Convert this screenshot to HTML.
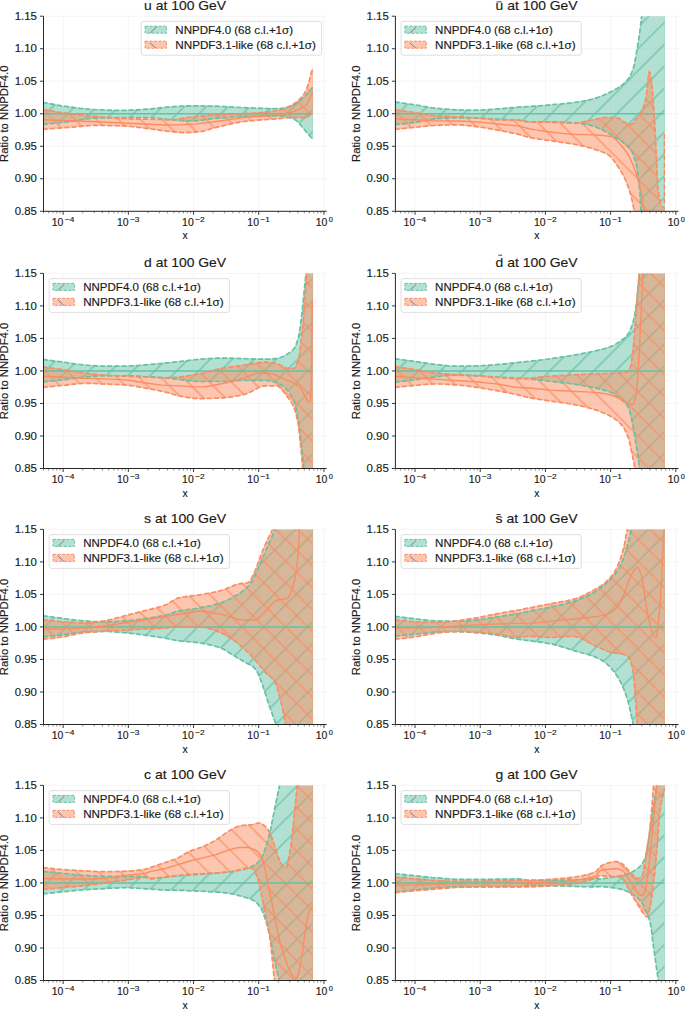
<!DOCTYPE html><html><head><meta charset="utf-8"><style>html,body{margin:0;padding:0;background:#fff;}svg{display:block}text{font-family:'Liberation Sans',sans-serif;fill:#1a1a1a;stroke:#1a1a1a;stroke-width:0.15px}</style></head><body>
<svg width="685" height="1009" viewBox="0 0 685 1009">
<defs>
<pattern id="hg0" patternUnits="userSpaceOnUse" width="15.486" height="15.486" patternTransform="translate(-4.75,0) rotate(45)"><line x1="7.743" y1="-1" x2="7.743" y2="16.486" stroke="#66c2a5" stroke-width="1.2"/></pattern>
<pattern id="ho0" patternUnits="userSpaceOnUse" width="15.486" height="15.486" patternTransform="translate(10.05,0) rotate(-45)"><line x1="7.743" y1="-1" x2="7.743" y2="16.486" stroke="#fc8d62" stroke-width="1.2"/></pattern>
<pattern id="hg1" patternUnits="userSpaceOnUse" width="15.486" height="15.486" patternTransform="translate(-2.95,0) rotate(45)"><line x1="7.743" y1="-1" x2="7.743" y2="16.486" stroke="#66c2a5" stroke-width="1.2"/></pattern>
<pattern id="ho1" patternUnits="userSpaceOnUse" width="15.486" height="15.486" patternTransform="translate(10.05,0) rotate(-45)"><line x1="7.743" y1="-1" x2="7.743" y2="16.486" stroke="#fc8d62" stroke-width="1.2"/></pattern>
<pattern id="hg2" patternUnits="userSpaceOnUse" width="15.486" height="15.486" patternTransform="translate(-10.85,0) rotate(45)"><line x1="7.743" y1="-1" x2="7.743" y2="16.486" stroke="#66c2a5" stroke-width="1.2"/></pattern>
<pattern id="ho2" patternUnits="userSpaceOnUse" width="15.486" height="15.486" patternTransform="translate(-8.25,0) rotate(-45)"><line x1="7.743" y1="-1" x2="7.743" y2="16.486" stroke="#fc8d62" stroke-width="1.2"/></pattern>
<pattern id="hg3" patternUnits="userSpaceOnUse" width="15.486" height="15.486" patternTransform="translate(-10.05,0) rotate(45)"><line x1="7.743" y1="-1" x2="7.743" y2="16.486" stroke="#66c2a5" stroke-width="1.2"/></pattern>
<pattern id="ho3" patternUnits="userSpaceOnUse" width="15.486" height="15.486" patternTransform="translate(-5.95,0) rotate(-45)"><line x1="7.743" y1="-1" x2="7.743" y2="16.486" stroke="#fc8d62" stroke-width="1.2"/></pattern>
<pattern id="hg4" patternUnits="userSpaceOnUse" width="15.486" height="15.486" patternTransform="translate(3.55,0) rotate(45)"><line x1="7.743" y1="-1" x2="7.743" y2="16.486" stroke="#66c2a5" stroke-width="1.2"/></pattern>
<pattern id="ho4" patternUnits="userSpaceOnUse" width="15.486" height="15.486" patternTransform="translate(-1.60,0) rotate(-45)"><line x1="7.743" y1="-1" x2="7.743" y2="16.486" stroke="#fc8d62" stroke-width="1.2"/></pattern>
<pattern id="hg5" patternUnits="userSpaceOnUse" width="15.486" height="15.486" patternTransform="translate(5.75,0) rotate(45)"><line x1="7.743" y1="-1" x2="7.743" y2="16.486" stroke="#66c2a5" stroke-width="1.2"/></pattern>
<pattern id="ho5" patternUnits="userSpaceOnUse" width="15.486" height="15.486" patternTransform="translate(0.25,0) rotate(-45)"><line x1="7.743" y1="-1" x2="7.743" y2="16.486" stroke="#fc8d62" stroke-width="1.2"/></pattern>
<pattern id="hg6" patternUnits="userSpaceOnUse" width="15.486" height="15.486" patternTransform="translate(-1.05,0) rotate(45)"><line x1="7.743" y1="-1" x2="7.743" y2="16.486" stroke="#66c2a5" stroke-width="1.2"/></pattern>
<pattern id="ho6" patternUnits="userSpaceOnUse" width="15.486" height="15.486" patternTransform="translate(4.15,0) rotate(-45)"><line x1="7.743" y1="-1" x2="7.743" y2="16.486" stroke="#fc8d62" stroke-width="1.2"/></pattern>
<pattern id="hg7" patternUnits="userSpaceOnUse" width="15.486" height="15.486" patternTransform="translate(-0.65,0) rotate(45)"><line x1="7.743" y1="-1" x2="7.743" y2="16.486" stroke="#66c2a5" stroke-width="1.2"/></pattern>
<pattern id="ho7" patternUnits="userSpaceOnUse" width="15.486" height="15.486" patternTransform="translate(7.95,0) rotate(-45)"><line x1="7.743" y1="-1" x2="7.743" y2="16.486" stroke="#fc8d62" stroke-width="1.2"/></pattern>
<clipPath id="cp0"><rect x="43.5" y="16.2" width="283.1" height="195.1"/></clipPath>
<clipPath id="cp1"><rect x="395.4" y="16.2" width="283.1" height="195.1"/></clipPath>
<clipPath id="cp2"><rect x="43.5" y="273.4" width="283.1" height="195.1"/></clipPath>
<clipPath id="cp3"><rect x="395.4" y="273.4" width="283.1" height="195.1"/></clipPath>
<clipPath id="cp4"><rect x="43.5" y="529.4" width="283.1" height="195.1"/></clipPath>
<clipPath id="cp5"><rect x="395.4" y="529.4" width="283.1" height="195.1"/></clipPath>
<clipPath id="cp6"><rect x="43.5" y="785.4" width="283.1" height="195.1"/></clipPath>
<clipPath id="cp7"><rect x="395.4" y="785.4" width="283.1" height="195.1"/></clipPath>
</defs>
<path d="M63.13,16.20V211.30M128.33,16.20V211.30M193.53,16.20V211.30M258.73,16.20V211.30M323.93,16.20V211.30M43.50,211.30H326.60M43.50,178.78H326.60M43.50,146.27H326.60M43.50,113.75H326.60M43.50,81.23H326.60M43.50,48.72H326.60M43.50,16.20H326.60" stroke="#f3f3f3" stroke-width="0.9" fill="none"/>
<g clip-path="url(#cp0)"><path d="M42.8,102.3L61.8,105.9L80.0,108.3L92.1,109.5L111.6,110.3L123.0,110.4L134.8,110.0L151.7,108.8L170.0,106.9L183.0,106.0L191.5,105.8L215.3,106.1L244.6,107.7L266.8,108.5L279.8,108.6L283.4,108.1L287.7,107.1L294.2,104.8L296.5,103.5L299.7,101.0L305.6,95.4L308.2,92.6L312.6,87.3L312.6,139.2L299.4,123.7L297.5,121.6L295.8,120.2L293.9,119.1L288.3,117.3L284.1,116.3L280.2,115.9L260.0,116.1L235.5,116.9L212.4,118.7L199.0,120.6L193.5,121.0L184.3,120.7L170.3,119.9L156.0,118.1L150.8,117.7L114.9,117.7L93.7,118.1L87.5,118.7L72.2,121.3L56.2,123.1L42.8,124.2Z" fill="#66c2a5" fill-opacity="0.5"/><path d="M42.8,102.3L61.8,105.9L80.0,108.3L92.1,109.5L111.6,110.3L123.0,110.4L134.8,110.0L151.7,108.8L170.0,106.9L183.0,106.0L191.5,105.8L215.3,106.1L244.6,107.7L266.8,108.5L279.8,108.6L283.4,108.1L287.7,107.1L294.2,104.8L296.5,103.5L299.7,101.0L305.6,95.4L308.2,92.6L312.6,87.3L312.6,139.2L299.4,123.7L297.5,121.6L295.8,120.2L293.9,119.1L288.3,117.3L284.1,116.3L280.2,115.9L260.0,116.1L235.5,116.9L212.4,118.7L199.0,120.6L193.5,121.0L184.3,120.7L170.3,119.9L156.0,118.1L150.8,117.7L114.9,117.7L93.7,118.1L87.5,118.7L72.2,121.3L56.2,123.1L42.8,124.2Z" fill="url(#hg0)" stroke="#66c2a5" stroke-width="0.6" stroke-opacity="0.7"/><path d="M42.8,109.6L57.8,112.1L71.2,113.9L113.6,118.1L128.9,118.8L169.0,119.6L172.9,119.6L176.5,119.3L191.5,116.9L206.8,115.4L216.6,114.8L240.1,113.9L252.5,113.2L264.9,112.2L275.0,111.0L279.2,110.2L281.8,109.6L285.1,108.4L288.3,106.9L292.2,104.8L295.8,102.5L298.4,100.5L301.0,97.9L304.6,93.2L306.6,89.3L308.9,82.4L312.4,68.8L312.6,68.7L312.6,112.6L308.2,116.6L306.6,117.6L305.3,118.0L295.2,117.4L290.9,117.5L278.9,118.7L255.7,120.3L244.6,121.4L237.1,122.6L228.7,124.4L212.0,128.5L202.6,131.3L199.0,131.8L191.5,132.4L184.3,132.6L176.8,132.2L166.7,131.2L151.4,129.0L131.2,126.5L123.0,125.9L112.6,125.6L97.6,125.4L90.1,125.5L72.5,127.1L42.8,129.3Z" fill="#fc8d62" fill-opacity="0.5"/><path d="M42.8,109.6L57.8,112.1L71.2,113.9L113.6,118.1L128.9,118.8L169.0,119.6L172.9,119.6L176.5,119.3L191.5,116.9L206.8,115.4L216.6,114.8L240.1,113.9L252.5,113.2L264.9,112.2L275.0,111.0L279.2,110.2L281.8,109.6L285.1,108.4L288.3,106.9L292.2,104.8L295.8,102.5L298.4,100.5L301.0,97.9L304.6,93.2L306.6,89.3L308.9,82.4L312.4,68.8L312.6,68.7L312.6,112.6L308.2,116.6L306.6,117.6L305.3,118.0L295.2,117.4L290.9,117.5L278.9,118.7L255.7,120.3L244.6,121.4L237.1,122.6L228.7,124.4L212.0,128.5L202.6,131.3L199.0,131.8L191.5,132.4L184.3,132.6L176.8,132.2L166.7,131.2L151.4,129.0L131.2,126.5L123.0,125.9L112.6,125.6L97.6,125.4L90.1,125.5L72.5,127.1L42.8,129.3Z" fill="url(#ho0)" stroke="#fc8d62" stroke-width="0.6" stroke-opacity="0.7"/><path d="M42.8,102.3L61.8,105.9L80.0,108.3L92.1,109.5L111.6,110.3L123.0,110.4L134.8,110.0L151.7,108.8L170.0,106.9L183.0,106.0L191.5,105.8L215.3,106.1L244.6,107.7L266.8,108.5L279.8,108.6L283.4,108.1L287.7,107.1L294.2,104.8L296.5,103.5L299.7,101.0L305.6,95.4L308.2,92.6L312.6,87.3" fill="none" stroke="#66c2a5" stroke-width="1.7" stroke-dasharray="5,2.2"/><path d="M42.8,124.2L56.2,123.1L72.2,121.3L87.5,118.7L93.7,118.1L114.9,117.7L150.8,117.7L156.0,118.1L170.3,119.9L184.3,120.7L193.5,121.0L199.0,120.6L212.4,118.7L235.5,116.9L260.0,116.1L280.2,115.9L284.1,116.3L288.3,117.3L293.9,119.1L295.8,120.2L297.5,121.6L299.4,123.7L312.6,139.2" fill="none" stroke="#66c2a5" stroke-width="1.7" stroke-dasharray="5,2.2"/><path d="M43.50,113.75H312.58" stroke="#66c2a5" stroke-width="1.6"/><path d="M42.8,109.6L57.8,112.1L71.2,113.9L113.6,118.1L128.9,118.8L169.0,119.6L172.9,119.6L176.5,119.3L191.5,116.9L206.8,115.4L216.6,114.8L240.1,113.9L252.5,113.2L264.9,112.2L275.0,111.0L279.2,110.2L281.8,109.6L285.1,108.4L288.3,106.9L292.2,104.8L295.8,102.5L298.4,100.5L301.0,97.9L304.6,93.2L306.6,89.3L308.9,82.4L312.4,68.8L312.6,68.7" fill="none" stroke="#fc8d62" stroke-width="1.7" stroke-dasharray="5,2.2"/><path d="M42.8,129.3L72.5,127.1L90.1,125.5L97.6,125.4L112.6,125.6L123.0,125.9L131.2,126.5L151.4,129.0L166.7,131.2L176.8,132.2L184.3,132.6L191.5,132.4L199.0,131.8L202.6,131.3L212.0,128.5L228.7,124.4L237.1,122.6L244.6,121.4L255.7,120.3L278.9,118.7L290.9,117.5L295.2,117.4L305.3,118.0L306.6,117.6L308.2,116.6L312.6,112.6" fill="none" stroke="#fc8d62" stroke-width="1.7" stroke-dasharray="5,2.2"/><path d="M42.8,119.8L96.6,121.8L165.7,125.0L179.8,124.9L197.4,123.9L216.0,121.5L243.3,117.6L251.5,116.9L269.4,115.7L277.2,114.9L284.1,113.9L289.6,112.6L293.9,111.3L298.1,109.6L302.0,107.7L305.3,105.7L306.6,104.2L307.9,102.2L312.6,92.9" fill="none" stroke="#fc8d62" stroke-width="1.4"/></g>
<path d="M43.50,16.20V211.30H326.60" stroke="#262626" stroke-width="1" fill="none"/>
<text x="36.90" y="215.00" font-size="10.4" text-anchor="end" textLength="22.2" lengthAdjust="spacingAndGlyphs">0.85</text>
<text x="36.90" y="182.48" font-size="10.4" text-anchor="end" textLength="22.2" lengthAdjust="spacingAndGlyphs">0.90</text>
<text x="36.90" y="149.97" font-size="10.4" text-anchor="end" textLength="22.2" lengthAdjust="spacingAndGlyphs">0.95</text>
<text x="36.90" y="117.45" font-size="10.4" text-anchor="end" textLength="22.2" lengthAdjust="spacingAndGlyphs">1.00</text>
<text x="36.90" y="84.93" font-size="10.4" text-anchor="end" textLength="22.2" lengthAdjust="spacingAndGlyphs">1.05</text>
<text x="36.90" y="52.42" font-size="10.4" text-anchor="end" textLength="22.2" lengthAdjust="spacingAndGlyphs">1.10</text>
<text x="36.90" y="19.90" font-size="10.4" text-anchor="end" textLength="22.2" lengthAdjust="spacingAndGlyphs">1.15</text>
<text x="51.73" y="225.50" font-size="10.4" textLength="11.6" lengthAdjust="spacingAndGlyphs">10</text>
<text x="64.73" y="221.80" font-size="7.4" textLength="9.6" lengthAdjust="spacingAndGlyphs">−4</text>
<text x="116.93" y="225.50" font-size="10.4" textLength="11.6" lengthAdjust="spacingAndGlyphs">10</text>
<text x="129.93" y="221.80" font-size="7.4" textLength="9.6" lengthAdjust="spacingAndGlyphs">−3</text>
<text x="182.13" y="225.50" font-size="10.4" textLength="11.6" lengthAdjust="spacingAndGlyphs">10</text>
<text x="195.13" y="221.80" font-size="7.4" textLength="9.6" lengthAdjust="spacingAndGlyphs">−2</text>
<text x="247.33" y="225.50" font-size="10.4" textLength="11.6" lengthAdjust="spacingAndGlyphs">10</text>
<text x="260.33" y="221.80" font-size="7.4" textLength="9.6" lengthAdjust="spacingAndGlyphs">−1</text>
<text x="315.73" y="225.50" font-size="10.4" textLength="11.6" lengthAdjust="spacingAndGlyphs">10</text>
<text x="328.73" y="221.80" font-size="7.4">0</text>
<path d="M40.00,211.30H43.50M40.00,178.78H43.50M40.00,146.27H43.50M40.00,113.75H43.50M40.00,81.23H43.50M40.00,48.72H43.50M40.00,16.20H43.50M63.13,211.30v3.5M128.33,211.30v3.5M193.53,211.30v3.5M258.73,211.30v3.5M323.93,211.30v3.5" stroke="#262626" stroke-width="0.9" fill="none"/>
<path d="M43.50,211.30v2M48.66,211.30v2M53.03,211.30v2M56.81,211.30v2M60.14,211.30v2M82.75,211.30v2M94.24,211.30v2M102.38,211.30v2M108.70,211.30v2M113.86,211.30v2M118.23,211.30v2M122.01,211.30v2M125.34,211.30v2M147.95,211.30v2M159.44,211.30v2M167.58,211.30v2M173.90,211.30v2M179.06,211.30v2M183.43,211.30v2M187.21,211.30v2M190.54,211.30v2M213.15,211.30v2M224.64,211.30v2M232.78,211.30v2M239.10,211.30v2M244.26,211.30v2M248.63,211.30v2M252.41,211.30v2M255.74,211.30v2M278.35,211.30v2M289.84,211.30v2M297.98,211.30v2M304.30,211.30v2M309.46,211.30v2M313.83,211.30v2M317.61,211.30v2M320.94,211.30v2" stroke="#3a3a3a" stroke-width="0.6" fill="none"/>
<text x="185.05" y="239.30" font-size="10.4" text-anchor="middle">x</text>
<text transform="translate(7.50,113.75) rotate(-90)" font-size="10.4" text-anchor="middle" textLength="96.4" lengthAdjust="spacingAndGlyphs">Ratio to NNPDF4.0</text>
<text x="144.10" y="10.00" font-size="12.8" textLength="82" lengthAdjust="spacingAndGlyphs">u at 100 GeV</text>
<rect x="141.30" y="21.40" width="180.2" height="33.8" rx="2.2" fill="#fff" fill-opacity="0.8" stroke="#d6d6d6" stroke-width="0.8"/>
<rect x="145.10" y="26.20" width="21.4" height="7" fill="#66c2a5" fill-opacity="0.5" stroke="#66c2a5" stroke-width="1" stroke-dasharray="3,1.5"/>
<path d="M150.30,32.80L156.50,27.10" stroke="#777" stroke-width="0.9"/>
<text x="175.30" y="34.20" font-size="10.4" textLength="117.7" lengthAdjust="spacingAndGlyphs">NNPDF4.0 (68 c.l.+1σ)</text>
<rect x="145.10" y="41.20" width="21.4" height="7" fill="#fc8d62" fill-opacity="0.5" stroke="#fc8d62" stroke-width="1" stroke-dasharray="3,1.5"/>
<path d="M149.90,42.80L156.00,48.10" stroke="#777" stroke-width="0.9"/>
<text x="175.30" y="49.20" font-size="10.4" textLength="140.5" lengthAdjust="spacingAndGlyphs">NNPDF3.1-like (68 c.l.+1σ)</text>
<path d="M415.03,16.20V211.30M480.23,16.20V211.30M545.43,16.20V211.30M610.63,16.20V211.30M675.83,16.20V211.30M395.40,211.30H678.50M395.40,178.78H678.50M395.40,146.27H678.50M395.40,113.75H678.50M395.40,81.23H678.50M395.40,48.72H678.50M395.40,16.20H678.50" stroke="#f3f3f3" stroke-width="0.9" fill="none"/>
<g clip-path="url(#cp1)"><path d="M394.7,102.0L415.6,104.9L432.2,107.8L443.0,108.9L456.0,109.8L470.7,110.2L480.5,110.2L498.7,108.9L516.3,107.3L539.5,105.8L561.7,103.9L571.8,102.8L582.2,101.3L591.7,99.3L598.2,97.4L604.7,94.7L612.5,90.9L617.1,88.4L621.0,85.8L624.6,82.9L627.2,80.2L629.5,77.2L631.4,73.5L633.1,69.3L634.4,64.2L635.7,57.3L638.3,42.0L639.9,31.0L641.2,20.1L645.4,-23.4L645.8,-23.8L664.5,-23.8L664.5,251.3L645.1,251.3L644.8,250.9L643.2,237.6L642.2,227.6L640.9,209.2L639.9,191.2L637.6,171.9L636.6,166.2L635.3,160.9L633.4,154.8L631.7,151.0L630.4,149.0L628.5,146.9L624.6,143.5L621.0,140.8L610.2,134.1L599.8,128.8L595.2,126.8L591.3,125.6L582.8,123.8L575.4,122.8L556.8,121.9L529.1,121.9L526.5,121.6L520.3,120.4L517.6,120.1L497.1,119.2L475.9,118.0L453.4,117.8L445.9,118.1L435.8,118.8L430.6,119.5L415.9,122.5L404.2,123.8L394.7,124.5Z" fill="#66c2a5" fill-opacity="0.5"/><path d="M394.7,102.0L415.6,104.9L432.2,107.8L443.0,108.9L456.0,109.8L470.7,110.2L480.5,110.2L498.7,108.9L516.3,107.3L539.5,105.8L561.7,103.9L571.8,102.8L582.2,101.3L591.7,99.3L598.2,97.4L604.7,94.7L612.5,90.9L617.1,88.4L621.0,85.8L624.6,82.9L627.2,80.2L629.5,77.2L631.4,73.5L633.1,69.3L634.4,64.2L635.7,57.3L638.3,42.0L639.9,31.0L641.2,20.1L645.4,-23.4L645.8,-23.8L664.5,-23.8L664.5,251.3L645.1,251.3L644.8,250.9L643.2,237.6L642.2,227.6L640.9,209.2L639.9,191.2L637.6,171.9L636.6,166.2L635.3,160.9L633.4,154.8L631.7,151.0L630.4,149.0L628.5,146.9L624.6,143.5L621.0,140.8L610.2,134.1L599.8,128.8L595.2,126.8L591.3,125.6L582.8,123.8L575.4,122.8L556.8,121.9L529.1,121.9L526.5,121.6L520.3,120.4L517.6,120.1L497.1,119.2L475.9,118.0L453.4,117.8L445.9,118.1L435.8,118.8L430.6,119.5L415.9,122.5L404.2,123.8L394.7,124.5Z" fill="url(#hg1)" stroke="#66c2a5" stroke-width="0.6" stroke-opacity="0.7"/><path d="M394.7,109.7L416.3,112.8L429.0,115.0L434.8,115.7L476.9,117.8L496.1,119.8L518.3,120.5L530.0,121.9L552.5,122.3L568.5,123.2L575.0,123.3L580.2,122.6L589.4,120.5L602.7,117.8L606.6,117.5L614.8,117.7L618.4,118.1L619.7,118.8L623.9,122.1L628.5,124.1L629.8,124.4L631.1,124.4L632.4,123.8L633.7,122.5L639.2,115.4L641.5,111.6L643.8,106.2L645.1,101.9L646.1,97.9L646.7,93.1L648.4,76.5L649.0,72.5L649.4,71.9L649.7,72.2L650.3,74.2L651.6,81.6L652.9,95.9L654.9,126.5L657.5,181.9L658.2,190.7L659.5,199.2L660.8,204.3L661.4,205.5L662.4,206.6L663.4,207.3L664.5,207.7L664.5,251.3L641.9,251.3L641.5,250.9L637.0,232.4L634.4,211.9L632.4,201.5L630.4,193.7L627.5,184.8L624.9,178.5L622.3,173.4L619.4,168.7L613.8,160.6L611.5,157.7L609.6,155.8L607.3,154.3L604.4,152.8L599.8,151.0L591.3,148.3L584.2,146.4L576.7,144.7L567.2,143.1L533.0,138.2L527.8,137.1L518.0,134.2L507.9,132.1L483.7,127.6L470.4,125.9L463.2,125.2L457.3,124.9L447.6,125.0L434.8,125.4L428.7,125.9L394.7,129.5Z" fill="#fc8d62" fill-opacity="0.5"/><path d="M394.7,109.7L416.3,112.8L429.0,115.0L434.8,115.7L476.9,117.8L496.1,119.8L518.3,120.5L530.0,121.9L552.5,122.3L568.5,123.2L575.0,123.3L580.2,122.6L589.4,120.5L602.7,117.8L606.6,117.5L614.8,117.7L618.4,118.1L619.7,118.8L623.9,122.1L628.5,124.1L629.8,124.4L631.1,124.4L632.4,123.8L633.7,122.5L639.2,115.4L641.5,111.6L643.8,106.2L645.1,101.9L646.1,97.9L646.7,93.1L648.4,76.5L649.0,72.5L649.4,71.9L649.7,72.2L650.3,74.2L651.6,81.6L652.9,95.9L654.9,126.5L657.5,181.9L658.2,190.7L659.5,199.2L660.8,204.3L661.4,205.5L662.4,206.6L663.4,207.3L664.5,207.7L664.5,251.3L641.9,251.3L641.5,250.9L637.0,232.4L634.4,211.9L632.4,201.5L630.4,193.7L627.5,184.8L624.9,178.5L622.3,173.4L619.4,168.7L613.8,160.6L611.5,157.7L609.6,155.8L607.3,154.3L604.4,152.8L599.8,151.0L591.3,148.3L584.2,146.4L576.7,144.7L567.2,143.1L533.0,138.2L527.8,137.1L518.0,134.2L507.9,132.1L483.7,127.6L470.4,125.9L463.2,125.2L457.3,124.9L447.6,125.0L434.8,125.4L428.7,125.9L394.7,129.5Z" fill="url(#ho1)" stroke="#fc8d62" stroke-width="0.6" stroke-opacity="0.7"/><path d="M394.7,102.0L415.6,104.9L432.2,107.8L443.0,108.9L456.0,109.8L470.7,110.2L480.5,110.2L498.7,108.9L516.3,107.3L539.5,105.8L561.7,103.9L571.8,102.8L582.2,101.3L591.7,99.3L598.2,97.4L604.7,94.7L612.5,90.9L617.1,88.4L621.0,85.8L624.6,82.9L627.2,80.2L629.5,77.2L631.4,73.5L633.1,69.3L634.4,64.2L635.7,57.3L638.3,42.0L639.9,31.0L641.2,20.1L645.4,-23.4L645.8,-23.8L664.5,-23.8" fill="none" stroke="#66c2a5" stroke-width="1.7" stroke-dasharray="5,2.2"/><path d="M394.7,124.5L404.2,123.8L415.9,122.5L430.6,119.5L435.8,118.8L445.9,118.1L453.4,117.8L475.9,118.0L497.1,119.2L517.6,120.1L520.3,120.4L526.5,121.6L529.1,121.9L556.8,121.9L575.4,122.8L582.8,123.8L591.3,125.6L595.2,126.8L599.8,128.8L610.2,134.1L621.0,140.8L624.6,143.5L628.5,146.9L630.4,149.0L631.7,151.0L633.4,154.8L635.3,160.9L636.6,166.2L637.6,171.9L639.9,191.2L640.9,209.2L642.2,227.6L643.2,237.6L644.8,250.9L645.1,251.3L664.5,251.3" fill="none" stroke="#66c2a5" stroke-width="1.7" stroke-dasharray="5,2.2"/><path d="M395.40,113.75H664.48" stroke="#66c2a5" stroke-width="1.6"/><path d="M394.7,109.7L416.3,112.8L429.0,115.0L434.8,115.7L476.9,117.8L496.1,119.8L518.3,120.5L530.0,121.9L552.5,122.3L568.5,123.2L575.0,123.3L580.2,122.6L589.4,120.5L602.7,117.8L606.6,117.5L614.8,117.7L618.4,118.1L619.7,118.8L623.9,122.1L628.5,124.1L629.8,124.4L631.1,124.4L632.4,123.8L633.7,122.5L639.2,115.4L641.5,111.6L643.8,106.2L645.1,101.9L646.1,97.9L646.7,93.1L648.4,76.5L649.0,72.5L649.4,71.9L649.7,72.2L650.3,74.2L651.6,81.6L652.9,95.9L654.9,126.5L657.5,181.9L658.2,190.7L659.5,199.2L660.8,204.3L661.4,205.5L662.4,206.6L663.4,207.3L664.5,207.7" fill="none" stroke="#fc8d62" stroke-width="1.7" stroke-dasharray="5,2.2"/><path d="M394.7,129.5L428.7,125.9L434.8,125.4L447.6,125.0L457.3,124.9L463.2,125.2L470.4,125.9L483.7,127.6L507.9,132.1L518.0,134.2L527.8,137.1L533.0,138.2L567.2,143.1L576.7,144.7L584.2,146.4L591.3,148.3L599.8,151.0L604.4,152.8L607.3,154.3L609.6,155.8L611.5,157.7L613.8,160.6L619.4,168.7L622.3,173.4L624.9,178.5L627.5,184.8L630.4,193.7L632.4,201.5L634.4,211.9L637.0,232.4L641.5,250.9L641.9,251.3L664.5,251.3" fill="none" stroke="#fc8d62" stroke-width="1.7" stroke-dasharray="5,2.2"/><path d="M394.7,118.8L431.3,120.8L460.3,121.0L479.5,122.1L517.0,125.9L520.6,126.5L529.1,128.7L535.9,129.9L546.7,131.5L562.0,133.4L573.4,134.3L593.0,134.9L601.4,135.3L608.9,136.2L611.2,136.6L612.5,137.0L614.8,138.6L617.7,141.5L623.6,148.3L626.9,152.9L629.5,157.2L631.7,161.7L633.7,166.4L636.0,172.9L639.2,183.8L641.9,195.6L643.8,209.3L645.8,232.3L647.4,240.2L650.0,250.7L650.3,251.3L664.5,251.3" fill="none" stroke="#fc8d62" stroke-width="1.4"/><path d="M664.4,134V203" stroke="#fc8d62" stroke-width="1.5" stroke-dasharray="5,2.2" fill="none"/></g>
<path d="M395.40,16.20V211.30H678.50" stroke="#262626" stroke-width="1" fill="none"/>
<text x="388.80" y="215.00" font-size="10.4" text-anchor="end" textLength="22.2" lengthAdjust="spacingAndGlyphs">0.85</text>
<text x="388.80" y="182.48" font-size="10.4" text-anchor="end" textLength="22.2" lengthAdjust="spacingAndGlyphs">0.90</text>
<text x="388.80" y="149.97" font-size="10.4" text-anchor="end" textLength="22.2" lengthAdjust="spacingAndGlyphs">0.95</text>
<text x="388.80" y="117.45" font-size="10.4" text-anchor="end" textLength="22.2" lengthAdjust="spacingAndGlyphs">1.00</text>
<text x="388.80" y="84.93" font-size="10.4" text-anchor="end" textLength="22.2" lengthAdjust="spacingAndGlyphs">1.05</text>
<text x="388.80" y="52.42" font-size="10.4" text-anchor="end" textLength="22.2" lengthAdjust="spacingAndGlyphs">1.10</text>
<text x="388.80" y="19.90" font-size="10.4" text-anchor="end" textLength="22.2" lengthAdjust="spacingAndGlyphs">1.15</text>
<text x="403.63" y="225.50" font-size="10.4" textLength="11.6" lengthAdjust="spacingAndGlyphs">10</text>
<text x="416.63" y="221.80" font-size="7.4" textLength="9.6" lengthAdjust="spacingAndGlyphs">−4</text>
<text x="468.83" y="225.50" font-size="10.4" textLength="11.6" lengthAdjust="spacingAndGlyphs">10</text>
<text x="481.83" y="221.80" font-size="7.4" textLength="9.6" lengthAdjust="spacingAndGlyphs">−3</text>
<text x="534.03" y="225.50" font-size="10.4" textLength="11.6" lengthAdjust="spacingAndGlyphs">10</text>
<text x="547.03" y="221.80" font-size="7.4" textLength="9.6" lengthAdjust="spacingAndGlyphs">−2</text>
<text x="599.23" y="225.50" font-size="10.4" textLength="11.6" lengthAdjust="spacingAndGlyphs">10</text>
<text x="612.23" y="221.80" font-size="7.4" textLength="9.6" lengthAdjust="spacingAndGlyphs">−1</text>
<text x="667.63" y="225.50" font-size="10.4" textLength="11.6" lengthAdjust="spacingAndGlyphs">10</text>
<text x="680.63" y="221.80" font-size="7.4">0</text>
<path d="M391.90,211.30H395.40M391.90,178.78H395.40M391.90,146.27H395.40M391.90,113.75H395.40M391.90,81.23H395.40M391.90,48.72H395.40M391.90,16.20H395.40M415.03,211.30v3.5M480.23,211.30v3.5M545.43,211.30v3.5M610.63,211.30v3.5M675.83,211.30v3.5" stroke="#262626" stroke-width="0.9" fill="none"/>
<path d="M395.40,211.30v2M400.56,211.30v2M404.93,211.30v2M408.71,211.30v2M412.04,211.30v2M434.65,211.30v2M446.14,211.30v2M454.28,211.30v2M460.60,211.30v2M465.76,211.30v2M470.13,211.30v2M473.91,211.30v2M477.24,211.30v2M499.85,211.30v2M511.34,211.30v2M519.48,211.30v2M525.80,211.30v2M530.96,211.30v2M535.33,211.30v2M539.11,211.30v2M542.44,211.30v2M565.05,211.30v2M576.54,211.30v2M584.68,211.30v2M591.00,211.30v2M596.16,211.30v2M600.53,211.30v2M604.31,211.30v2M607.64,211.30v2M630.25,211.30v2M641.74,211.30v2M649.88,211.30v2M656.20,211.30v2M661.36,211.30v2M665.73,211.30v2M669.51,211.30v2M672.84,211.30v2" stroke="#3a3a3a" stroke-width="0.6" fill="none"/>
<text x="536.95" y="239.30" font-size="10.4" text-anchor="middle">x</text>
<text transform="translate(359.50,113.75) rotate(-90)" font-size="10.4" text-anchor="middle" textLength="96.4" lengthAdjust="spacingAndGlyphs">Ratio to NNPDF4.0</text>
<text x="495.60" y="10.00" font-size="12.8" textLength="82" lengthAdjust="spacingAndGlyphs">u at 100 GeV</text>
<path d="M496.50,1.90H501.70" stroke="#1a1a1a" stroke-width="0.85"/>
<rect x="401.10" y="21.40" width="180.2" height="33.8" rx="2.2" fill="#fff" fill-opacity="0.8" stroke="#d6d6d6" stroke-width="0.8"/>
<rect x="404.90" y="26.20" width="21.4" height="7" fill="#66c2a5" fill-opacity="0.5" stroke="#66c2a5" stroke-width="1" stroke-dasharray="3,1.5"/>
<path d="M410.10,32.80L416.30,27.10" stroke="#777" stroke-width="0.9"/>
<text x="435.10" y="34.20" font-size="10.4" textLength="117.7" lengthAdjust="spacingAndGlyphs">NNPDF4.0 (68 c.l.+1σ)</text>
<rect x="404.90" y="41.20" width="21.4" height="7" fill="#fc8d62" fill-opacity="0.5" stroke="#fc8d62" stroke-width="1" stroke-dasharray="3,1.5"/>
<path d="M409.70,42.80L415.80,48.10" stroke="#777" stroke-width="0.9"/>
<text x="435.10" y="49.20" font-size="10.4" textLength="140.5" lengthAdjust="spacingAndGlyphs">NNPDF3.1-like (68 c.l.+1σ)</text>
<path d="M63.13,273.40V468.50M128.33,273.40V468.50M193.53,273.40V468.50M258.73,273.40V468.50M323.93,273.40V468.50M43.50,468.50H326.60M43.50,435.98H326.60M43.50,403.47H326.60M43.50,370.95H326.60M43.50,338.43H326.60M43.50,305.92H326.60M43.50,273.40H326.60" stroke="#f3f3f3" stroke-width="0.9" fill="none"/>
<g clip-path="url(#cp2)"><path d="M42.8,359.4L64.0,362.2L79.0,364.4L90.8,365.5L102.2,366.1L126.0,366.1L133.8,365.8L148.8,364.6L178.8,361.7L196.7,359.5L210.1,358.5L218.2,358.1L225.7,358.1L260.3,359.1L267.5,359.2L277.2,358.4L279.8,357.8L282.8,356.6L289.6,352.8L291.6,351.3L293.5,349.3L294.8,347.5L296.1,344.8L298.4,337.7L300.1,328.6L302.3,310.0L306.3,270.5L308.9,236.0L309.2,233.4L312.6,233.4L312.6,508.5L306.9,508.5L304.0,469.8L300.7,438.4L298.4,420.9L296.8,411.9L295.2,404.7L294.2,401.5L292.6,397.8L290.9,394.8L289.3,392.4L287.0,389.8L283.8,386.8L281.2,384.9L278.5,383.4L276.6,382.6L272.0,381.3L269.1,380.7L266.5,380.4L241.7,380.4L223.1,381.5L198.0,381.5L190.5,380.9L166.1,377.8L131.2,375.9L125.3,375.8L103.2,375.8L95.7,376.1L81.0,377.5L60.5,380.2L42.8,381.9Z" fill="#66c2a5" fill-opacity="0.5"/><path d="M42.8,359.4L64.0,362.2L79.0,364.4L90.8,365.5L102.2,366.1L126.0,366.1L133.8,365.8L148.8,364.6L178.8,361.7L196.7,359.5L210.1,358.5L218.2,358.1L225.7,358.1L260.3,359.1L267.5,359.2L277.2,358.4L279.8,357.8L282.8,356.6L289.6,352.8L291.6,351.3L293.5,349.3L294.8,347.5L296.1,344.8L298.4,337.7L300.1,328.6L302.3,310.0L306.3,270.5L308.9,236.0L309.2,233.4L312.6,233.4L312.6,508.5L306.9,508.5L304.0,469.8L300.7,438.4L298.4,420.9L296.8,411.9L295.2,404.7L294.2,401.5L292.6,397.8L290.9,394.8L289.3,392.4L287.0,389.8L283.8,386.8L281.2,384.9L278.5,383.4L276.6,382.6L272.0,381.3L269.1,380.7L266.5,380.4L241.7,380.4L223.1,381.5L198.0,381.5L190.5,380.9L166.1,377.8L131.2,375.9L125.3,375.8L103.2,375.8L95.7,376.1L81.0,377.5L60.5,380.2L42.8,381.9Z" fill="url(#hg2)" stroke="#66c2a5" stroke-width="0.6" stroke-opacity="0.7"/><path d="M42.8,367.0L63.7,369.7L82.6,372.9L98.6,374.7L108.0,375.4L141.3,377.0L164.4,377.8L170.3,377.7L178.5,377.1L188.2,375.9L202.3,373.3L216.9,369.4L222.5,368.2L230.6,366.9L245.3,364.9L256.4,363.0L261.9,362.4L265.5,362.2L268.8,362.4L276.9,363.6L279.2,364.5L284.4,367.5L286.7,368.3L293.9,368.3L294.5,368.2L295.2,367.6L296.1,365.9L298.4,359.6L299.4,355.2L300.4,348.5L302.3,331.2L303.6,317.4L309.5,236.0L309.8,233.4L312.6,233.4L312.6,508.5L305.6,508.5L303.3,474.2L299.4,433.1L298.1,423.4L295.8,413.0L294.8,409.8L293.5,406.5L292.2,403.9L290.6,401.1L282.1,389.7L280.2,387.7L278.2,386.3L276.6,385.8L265.2,385.8L262.6,386.2L260.3,386.9L258.0,387.9L249.5,392.4L245.9,394.0L241.1,395.2L232.6,396.8L227.4,397.5L222.5,397.9L211.1,398.4L201.3,398.6L193.8,398.3L184.7,397.0L176.5,395.4L166.4,392.3L156.9,390.2L133.8,386.0L124.0,384.9L93.7,383.5L82.3,383.3L77.1,383.7L64.4,385.3L42.8,387.4Z" fill="#fc8d62" fill-opacity="0.5"/><path d="M42.8,367.0L63.7,369.7L82.6,372.9L98.6,374.7L108.0,375.4L141.3,377.0L164.4,377.8L170.3,377.7L178.5,377.1L188.2,375.9L202.3,373.3L216.9,369.4L222.5,368.2L230.6,366.9L245.3,364.9L256.4,363.0L261.9,362.4L265.5,362.2L268.8,362.4L276.9,363.6L279.2,364.5L284.4,367.5L286.7,368.3L293.9,368.3L294.5,368.2L295.2,367.6L296.1,365.9L298.4,359.6L299.4,355.2L300.4,348.5L302.3,331.2L303.6,317.4L309.5,236.0L309.8,233.4L312.6,233.4L312.6,508.5L305.6,508.5L303.3,474.2L299.4,433.1L298.1,423.4L295.8,413.0L294.8,409.8L293.5,406.5L292.2,403.9L290.6,401.1L282.1,389.7L280.2,387.7L278.2,386.3L276.6,385.8L265.2,385.8L262.6,386.2L260.3,386.9L258.0,387.9L249.5,392.4L245.9,394.0L241.1,395.2L232.6,396.8L227.4,397.5L222.5,397.9L211.1,398.4L201.3,398.6L193.8,398.3L184.7,397.0L176.5,395.4L166.4,392.3L156.9,390.2L133.8,386.0L124.0,384.9L93.7,383.5L82.3,383.3L77.1,383.7L64.4,385.3L42.8,387.4Z" fill="url(#ho2)" stroke="#fc8d62" stroke-width="0.6" stroke-opacity="0.7"/><path d="M42.8,359.4L64.0,362.2L79.0,364.4L90.8,365.5L102.2,366.1L126.0,366.1L133.8,365.8L148.8,364.6L178.8,361.7L196.7,359.5L210.1,358.5L218.2,358.1L225.7,358.1L260.3,359.1L267.5,359.2L277.2,358.4L279.8,357.8L282.8,356.6L289.6,352.8L291.6,351.3L293.5,349.3L294.8,347.5L296.1,344.8L298.4,337.7L300.1,328.6L302.3,310.0L306.3,270.5L308.9,236.0L309.2,233.4L312.6,233.4" fill="none" stroke="#66c2a5" stroke-width="1.7" stroke-dasharray="5,2.2"/><path d="M42.8,381.9L60.5,380.2L81.0,377.5L95.7,376.1L103.2,375.8L125.3,375.8L131.2,375.9L166.1,377.8L190.5,380.9L198.0,381.5L223.1,381.5L241.7,380.4L266.5,380.4L269.1,380.7L272.0,381.3L276.6,382.6L278.5,383.4L281.2,384.9L283.8,386.8L287.0,389.8L289.3,392.4L290.9,394.8L292.6,397.8L294.2,401.5L295.2,404.7L296.8,411.9L298.4,420.9L300.7,438.4L304.0,469.8L306.9,508.5L312.6,508.5" fill="none" stroke="#66c2a5" stroke-width="1.7" stroke-dasharray="5,2.2"/><path d="M43.50,370.95H312.58" stroke="#66c2a5" stroke-width="1.6"/><path d="M42.8,367.0L63.7,369.7L82.6,372.9L98.6,374.7L108.0,375.4L141.3,377.0L164.4,377.8L170.3,377.7L178.5,377.1L188.2,375.9L202.3,373.3L216.9,369.4L222.5,368.2L230.6,366.9L245.3,364.9L256.4,363.0L261.9,362.4L265.5,362.2L268.8,362.4L276.9,363.6L279.2,364.5L284.4,367.5L286.7,368.3L293.9,368.3L294.5,368.2L295.2,367.6L296.1,365.9L298.4,359.6L299.4,355.2L300.4,348.5L302.3,331.2L303.6,317.4L309.5,236.0L309.8,233.4L312.6,233.4" fill="none" stroke="#fc8d62" stroke-width="1.7" stroke-dasharray="5,2.2"/><path d="M42.8,387.4L64.4,385.3L77.1,383.7L82.3,383.3L93.7,383.5L124.0,384.9L133.8,386.0L156.9,390.2L166.4,392.3L176.5,395.4L184.7,397.0L193.8,398.3L201.3,398.6L211.1,398.4L222.5,397.9L227.4,397.5L232.6,396.8L241.1,395.2L245.9,394.0L249.5,392.4L258.0,387.9L260.3,386.9L262.6,386.2L265.2,385.8L276.6,385.8L278.2,386.3L280.2,387.7L282.1,389.7L290.6,401.1L292.2,403.9L293.5,406.5L294.8,409.8L295.8,413.0L298.1,423.4L299.4,433.1L303.3,474.2L305.6,508.5L312.6,508.5" fill="none" stroke="#fc8d62" stroke-width="1.7" stroke-dasharray="5,2.2"/><path d="M42.8,376.3L64.0,377.2L82.0,378.4L106.4,378.9L121.4,379.6L129.2,380.3L143.9,382.7L161.8,385.1L180.1,385.9L193.8,386.8L200.6,386.9L205.2,386.7L210.1,386.0L223.8,383.3L229.6,382.0L244.3,378.0L253.4,374.4L257.0,373.3L260.0,373.0L265.5,373.2L272.4,374.1L275.3,375.0L284.1,379.1L292.9,382.7L296.8,384.8L299.4,386.7L300.7,388.0L302.0,390.3L304.6,395.8L307.9,401.4L308.9,402.1L310.2,402.1L310.5,400.5L311.1,385.9L311.5,368.9L312.1,300.5L312.6,300.5" fill="none" stroke="#fc8d62" stroke-width="1.4"/></g>
<path d="M43.50,273.40V468.50H326.60" stroke="#262626" stroke-width="1" fill="none"/>
<text x="36.90" y="472.20" font-size="10.4" text-anchor="end" textLength="22.2" lengthAdjust="spacingAndGlyphs">0.85</text>
<text x="36.90" y="439.68" font-size="10.4" text-anchor="end" textLength="22.2" lengthAdjust="spacingAndGlyphs">0.90</text>
<text x="36.90" y="407.17" font-size="10.4" text-anchor="end" textLength="22.2" lengthAdjust="spacingAndGlyphs">0.95</text>
<text x="36.90" y="374.65" font-size="10.4" text-anchor="end" textLength="22.2" lengthAdjust="spacingAndGlyphs">1.00</text>
<text x="36.90" y="342.13" font-size="10.4" text-anchor="end" textLength="22.2" lengthAdjust="spacingAndGlyphs">1.05</text>
<text x="36.90" y="309.62" font-size="10.4" text-anchor="end" textLength="22.2" lengthAdjust="spacingAndGlyphs">1.10</text>
<text x="36.90" y="277.10" font-size="10.4" text-anchor="end" textLength="22.2" lengthAdjust="spacingAndGlyphs">1.15</text>
<text x="51.73" y="482.70" font-size="10.4" textLength="11.6" lengthAdjust="spacingAndGlyphs">10</text>
<text x="64.73" y="479.00" font-size="7.4" textLength="9.6" lengthAdjust="spacingAndGlyphs">−4</text>
<text x="116.93" y="482.70" font-size="10.4" textLength="11.6" lengthAdjust="spacingAndGlyphs">10</text>
<text x="129.93" y="479.00" font-size="7.4" textLength="9.6" lengthAdjust="spacingAndGlyphs">−3</text>
<text x="182.13" y="482.70" font-size="10.4" textLength="11.6" lengthAdjust="spacingAndGlyphs">10</text>
<text x="195.13" y="479.00" font-size="7.4" textLength="9.6" lengthAdjust="spacingAndGlyphs">−2</text>
<text x="247.33" y="482.70" font-size="10.4" textLength="11.6" lengthAdjust="spacingAndGlyphs">10</text>
<text x="260.33" y="479.00" font-size="7.4" textLength="9.6" lengthAdjust="spacingAndGlyphs">−1</text>
<text x="315.73" y="482.70" font-size="10.4" textLength="11.6" lengthAdjust="spacingAndGlyphs">10</text>
<text x="328.73" y="479.00" font-size="7.4">0</text>
<path d="M40.00,468.50H43.50M40.00,435.98H43.50M40.00,403.47H43.50M40.00,370.95H43.50M40.00,338.43H43.50M40.00,305.92H43.50M40.00,273.40H43.50M63.13,468.50v3.5M128.33,468.50v3.5M193.53,468.50v3.5M258.73,468.50v3.5M323.93,468.50v3.5" stroke="#262626" stroke-width="0.9" fill="none"/>
<path d="M43.50,468.50v2M48.66,468.50v2M53.03,468.50v2M56.81,468.50v2M60.14,468.50v2M82.75,468.50v2M94.24,468.50v2M102.38,468.50v2M108.70,468.50v2M113.86,468.50v2M118.23,468.50v2M122.01,468.50v2M125.34,468.50v2M147.95,468.50v2M159.44,468.50v2M167.58,468.50v2M173.90,468.50v2M179.06,468.50v2M183.43,468.50v2M187.21,468.50v2M190.54,468.50v2M213.15,468.50v2M224.64,468.50v2M232.78,468.50v2M239.10,468.50v2M244.26,468.50v2M248.63,468.50v2M252.41,468.50v2M255.74,468.50v2M278.35,468.50v2M289.84,468.50v2M297.98,468.50v2M304.30,468.50v2M309.46,468.50v2M313.83,468.50v2M317.61,468.50v2M320.94,468.50v2" stroke="#3a3a3a" stroke-width="0.6" fill="none"/>
<text x="185.05" y="496.50" font-size="10.4" text-anchor="middle">x</text>
<text transform="translate(7.50,370.95) rotate(-90)" font-size="10.4" text-anchor="middle" textLength="96.4" lengthAdjust="spacingAndGlyphs">Ratio to NNPDF4.0</text>
<text x="144.10" y="267.20" font-size="12.8" textLength="82" lengthAdjust="spacingAndGlyphs">d at 100 GeV</text>
<rect x="49.20" y="278.60" width="180.2" height="33.8" rx="2.2" fill="#fff" fill-opacity="0.8" stroke="#d6d6d6" stroke-width="0.8"/>
<rect x="53.00" y="283.40" width="21.4" height="7" fill="#66c2a5" fill-opacity="0.5" stroke="#66c2a5" stroke-width="1" stroke-dasharray="3,1.5"/>
<path d="M58.20,290.00L64.40,284.30" stroke="#777" stroke-width="0.9"/>
<text x="83.20" y="291.40" font-size="10.4" textLength="117.7" lengthAdjust="spacingAndGlyphs">NNPDF4.0 (68 c.l.+1σ)</text>
<rect x="53.00" y="298.40" width="21.4" height="7" fill="#fc8d62" fill-opacity="0.5" stroke="#fc8d62" stroke-width="1" stroke-dasharray="3,1.5"/>
<path d="M57.80,300.00L63.90,305.30" stroke="#777" stroke-width="0.9"/>
<text x="83.20" y="306.40" font-size="10.4" textLength="140.5" lengthAdjust="spacingAndGlyphs">NNPDF3.1-like (68 c.l.+1σ)</text>
<path d="M415.03,273.40V468.50M480.23,273.40V468.50M545.43,273.40V468.50M610.63,273.40V468.50M675.83,273.40V468.50M395.40,468.50H678.50M395.40,435.98H678.50M395.40,403.47H678.50M395.40,370.95H678.50M395.40,338.43H678.50M395.40,305.92H678.50M395.40,273.40H678.50" stroke="#f3f3f3" stroke-width="0.9" fill="none"/>
<g clip-path="url(#cp3)"><path d="M394.7,358.8L415.6,361.5L432.9,364.2L448.5,365.8L453.4,366.1L458.6,366.1L476.9,365.9L482.4,365.7L501.0,364.2L531.0,361.2L545.0,359.5L565.2,356.6L580.9,353.9L593.6,351.3L605.0,348.5L609.3,347.1L612.5,345.8L616.1,343.9L620.0,341.3L624.3,338.1L626.9,335.5L628.8,332.9L630.1,330.4L631.4,327.1L633.1,321.9L634.4,316.6L635.3,311.5L637.3,298.3L641.2,253.6L643.2,234.4L643.5,233.4L664.5,233.4L664.5,508.5L643.5,508.5L640.2,473.4L638.9,462.4L634.0,431.1L631.4,418.0L629.8,411.2L629.1,409.1L628.2,407.0L626.5,404.6L624.9,402.7L617.4,396.3L614.5,394.2L611.9,392.8L608.6,391.5L605.0,390.3L594.6,387.8L582.5,385.5L569.5,383.5L529.7,378.9L517.3,378.0L496.1,377.1L477.9,375.8L458.6,375.2L453.8,375.2L448.5,375.5L433.5,377.1L415.6,379.8L394.7,382.3Z" fill="#66c2a5" fill-opacity="0.5"/><path d="M394.7,358.8L415.6,361.5L432.9,364.2L448.5,365.8L453.4,366.1L458.6,366.1L476.9,365.9L482.4,365.7L501.0,364.2L531.0,361.2L545.0,359.5L565.2,356.6L580.9,353.9L593.6,351.3L605.0,348.5L609.3,347.1L612.5,345.8L616.1,343.9L620.0,341.3L624.3,338.1L626.9,335.5L628.8,332.9L630.1,330.4L631.4,327.1L633.1,321.9L634.4,316.6L635.3,311.5L637.3,298.3L641.2,253.6L643.2,234.4L643.5,233.4L664.5,233.4L664.5,508.5L643.5,508.5L640.2,473.4L638.9,462.4L634.0,431.1L631.4,418.0L629.8,411.2L629.1,409.1L628.2,407.0L626.5,404.6L624.9,402.7L617.4,396.3L614.5,394.2L611.9,392.8L608.6,391.5L605.0,390.3L594.6,387.8L582.5,385.5L569.5,383.5L529.7,378.9L517.3,378.0L496.1,377.1L477.9,375.8L458.6,375.2L453.8,375.2L448.5,375.5L433.5,377.1L415.6,379.8L394.7,382.3Z" fill="url(#hg3)" stroke="#66c2a5" stroke-width="0.6" stroke-opacity="0.7"/><path d="M394.7,366.6L415.6,369.7L431.3,372.5L437.8,373.3L454.4,374.6L479.2,375.9L509.2,378.4L515.7,378.8L521.6,378.7L531.3,378.1L548.0,376.4L554.5,375.9L593.3,373.9L619.0,373.1L623.9,372.7L626.9,372.1L627.8,371.4L628.8,370.1L630.8,366.0L631.4,362.9L632.4,355.4L633.4,346.6L634.7,331.7L637.6,290.2L643.2,234.5L643.5,233.4L664.5,233.4L664.5,508.5L639.2,508.5L638.9,507.9L636.3,479.7L635.0,468.7L630.1,444.3L629.1,440.3L628.2,437.4L626.2,432.5L624.3,428.6L622.6,426.1L620.3,423.5L617.4,420.8L614.1,418.4L609.6,415.7L605.0,413.5L599.1,411.1L592.0,408.8L584.2,406.7L575.7,404.9L565.9,403.2L532.6,398.4L527.8,397.5L517.0,394.6L502.3,391.6L484.7,388.6L465.2,385.8L458.0,385.1L447.6,384.4L440.1,384.0L433.9,384.0L424.7,384.5L394.7,387.4Z" fill="#fc8d62" fill-opacity="0.5"/><path d="M394.7,366.6L415.6,369.7L431.3,372.5L437.8,373.3L454.4,374.6L479.2,375.9L509.2,378.4L515.7,378.8L521.6,378.7L531.3,378.1L548.0,376.4L554.5,375.9L593.3,373.9L619.0,373.1L623.9,372.7L626.9,372.1L627.8,371.4L628.8,370.1L630.8,366.0L631.4,362.9L632.4,355.4L633.4,346.6L634.7,331.7L637.6,290.2L643.2,234.5L643.5,233.4L664.5,233.4L664.5,508.5L639.2,508.5L638.9,507.9L636.3,479.7L635.0,468.7L630.1,444.3L629.1,440.3L628.2,437.4L626.2,432.5L624.3,428.6L622.6,426.1L620.3,423.5L617.4,420.8L614.1,418.4L609.6,415.7L605.0,413.5L599.1,411.1L592.0,408.8L584.2,406.7L575.7,404.9L565.9,403.2L532.6,398.4L527.8,397.5L517.0,394.6L502.3,391.6L484.7,388.6L465.2,385.8L458.0,385.1L447.6,384.4L440.1,384.0L433.9,384.0L424.7,384.5L394.7,387.4Z" fill="url(#ho3)" stroke="#fc8d62" stroke-width="0.6" stroke-opacity="0.7"/><path d="M394.7,358.8L415.6,361.5L432.9,364.2L448.5,365.8L453.4,366.1L458.6,366.1L476.9,365.9L482.4,365.7L501.0,364.2L531.0,361.2L545.0,359.5L565.2,356.6L580.9,353.9L593.6,351.3L605.0,348.5L609.3,347.1L612.5,345.8L616.1,343.9L620.0,341.3L624.3,338.1L626.9,335.5L628.8,332.9L630.1,330.4L631.4,327.1L633.1,321.9L634.4,316.6L635.3,311.5L637.3,298.3L641.2,253.6L643.2,234.4L643.5,233.4L664.5,233.4" fill="none" stroke="#66c2a5" stroke-width="1.7" stroke-dasharray="5,2.2"/><path d="M394.7,382.3L415.6,379.8L433.5,377.1L448.5,375.5L453.8,375.2L458.6,375.2L477.9,375.8L496.1,377.1L517.3,378.0L529.7,378.9L569.5,383.5L582.5,385.5L594.6,387.8L605.0,390.3L608.6,391.5L611.9,392.8L614.5,394.2L617.4,396.3L624.9,402.7L626.5,404.6L628.2,407.0L629.1,409.1L629.8,411.2L631.4,418.0L634.0,431.1L638.9,462.4L640.2,473.4L643.5,508.5L664.5,508.5" fill="none" stroke="#66c2a5" stroke-width="1.7" stroke-dasharray="5,2.2"/><path d="M395.40,370.95H664.48" stroke="#66c2a5" stroke-width="1.6"/><path d="M394.7,366.6L415.6,369.7L431.3,372.5L437.8,373.3L454.4,374.6L479.2,375.9L509.2,378.4L515.7,378.8L521.6,378.7L531.3,378.1L548.0,376.4L554.5,375.9L593.3,373.9L619.0,373.1L623.9,372.7L626.9,372.1L627.8,371.4L628.8,370.1L630.8,366.0L631.4,362.9L632.4,355.4L633.4,346.6L634.7,331.7L637.6,290.2L643.2,234.5L643.5,233.4L664.5,233.4" fill="none" stroke="#fc8d62" stroke-width="1.7" stroke-dasharray="5,2.2"/><path d="M394.7,387.4L424.7,384.5L433.9,384.0L440.1,384.0L447.6,384.4L458.0,385.1L465.2,385.8L484.7,388.6L502.3,391.6L517.0,394.6L527.8,397.5L532.6,398.4L565.9,403.2L575.7,404.9L584.2,406.7L592.0,408.8L599.1,411.1L605.0,413.5L609.6,415.7L614.1,418.4L617.4,420.8L620.3,423.5L622.6,426.1L624.3,428.6L626.2,432.5L628.2,437.4L629.1,440.3L630.1,444.3L635.0,468.7L636.3,479.7L638.9,507.9L639.2,508.5L664.5,508.5" fill="none" stroke="#fc8d62" stroke-width="1.7" stroke-dasharray="5,2.2"/><path d="M394.7,376.3L434.2,379.1L467.1,381.2L480.8,382.2L498.1,384.1L511.1,386.5L515.7,387.2L532.0,388.2L550.2,390.1L561.3,390.8L590.3,392.1L598.5,392.7L606.0,393.9L614.1,396.0L617.1,397.3L623.9,401.2L629.1,403.6L631.1,404.3L632.7,404.4L633.4,403.8L634.0,402.5L635.3,398.3L636.3,393.9L637.0,388.2L639.2,352.7L642.8,277.4L644.8,255.3L647.1,233.4L664.5,233.4" fill="none" stroke="#fc8d62" stroke-width="1.4"/></g>
<path d="M395.40,273.40V468.50H678.50" stroke="#262626" stroke-width="1" fill="none"/>
<text x="388.80" y="472.20" font-size="10.4" text-anchor="end" textLength="22.2" lengthAdjust="spacingAndGlyphs">0.85</text>
<text x="388.80" y="439.68" font-size="10.4" text-anchor="end" textLength="22.2" lengthAdjust="spacingAndGlyphs">0.90</text>
<text x="388.80" y="407.17" font-size="10.4" text-anchor="end" textLength="22.2" lengthAdjust="spacingAndGlyphs">0.95</text>
<text x="388.80" y="374.65" font-size="10.4" text-anchor="end" textLength="22.2" lengthAdjust="spacingAndGlyphs">1.00</text>
<text x="388.80" y="342.13" font-size="10.4" text-anchor="end" textLength="22.2" lengthAdjust="spacingAndGlyphs">1.05</text>
<text x="388.80" y="309.62" font-size="10.4" text-anchor="end" textLength="22.2" lengthAdjust="spacingAndGlyphs">1.10</text>
<text x="388.80" y="277.10" font-size="10.4" text-anchor="end" textLength="22.2" lengthAdjust="spacingAndGlyphs">1.15</text>
<text x="403.63" y="482.70" font-size="10.4" textLength="11.6" lengthAdjust="spacingAndGlyphs">10</text>
<text x="416.63" y="479.00" font-size="7.4" textLength="9.6" lengthAdjust="spacingAndGlyphs">−4</text>
<text x="468.83" y="482.70" font-size="10.4" textLength="11.6" lengthAdjust="spacingAndGlyphs">10</text>
<text x="481.83" y="479.00" font-size="7.4" textLength="9.6" lengthAdjust="spacingAndGlyphs">−3</text>
<text x="534.03" y="482.70" font-size="10.4" textLength="11.6" lengthAdjust="spacingAndGlyphs">10</text>
<text x="547.03" y="479.00" font-size="7.4" textLength="9.6" lengthAdjust="spacingAndGlyphs">−2</text>
<text x="599.23" y="482.70" font-size="10.4" textLength="11.6" lengthAdjust="spacingAndGlyphs">10</text>
<text x="612.23" y="479.00" font-size="7.4" textLength="9.6" lengthAdjust="spacingAndGlyphs">−1</text>
<text x="667.63" y="482.70" font-size="10.4" textLength="11.6" lengthAdjust="spacingAndGlyphs">10</text>
<text x="680.63" y="479.00" font-size="7.4">0</text>
<path d="M391.90,468.50H395.40M391.90,435.98H395.40M391.90,403.47H395.40M391.90,370.95H395.40M391.90,338.43H395.40M391.90,305.92H395.40M391.90,273.40H395.40M415.03,468.50v3.5M480.23,468.50v3.5M545.43,468.50v3.5M610.63,468.50v3.5M675.83,468.50v3.5" stroke="#262626" stroke-width="0.9" fill="none"/>
<path d="M395.40,468.50v2M400.56,468.50v2M404.93,468.50v2M408.71,468.50v2M412.04,468.50v2M434.65,468.50v2M446.14,468.50v2M454.28,468.50v2M460.60,468.50v2M465.76,468.50v2M470.13,468.50v2M473.91,468.50v2M477.24,468.50v2M499.85,468.50v2M511.34,468.50v2M519.48,468.50v2M525.80,468.50v2M530.96,468.50v2M535.33,468.50v2M539.11,468.50v2M542.44,468.50v2M565.05,468.50v2M576.54,468.50v2M584.68,468.50v2M591.00,468.50v2M596.16,468.50v2M600.53,468.50v2M604.31,468.50v2M607.64,468.50v2M630.25,468.50v2M641.74,468.50v2M649.88,468.50v2M656.20,468.50v2M661.36,468.50v2M665.73,468.50v2M669.51,468.50v2M672.84,468.50v2" stroke="#3a3a3a" stroke-width="0.6" fill="none"/>
<text x="536.95" y="496.50" font-size="10.4" text-anchor="middle">x</text>
<text transform="translate(359.50,370.95) rotate(-90)" font-size="10.4" text-anchor="middle" textLength="96.4" lengthAdjust="spacingAndGlyphs">Ratio to NNPDF4.0</text>
<text x="495.60" y="267.20" font-size="12.8" textLength="82" lengthAdjust="spacingAndGlyphs">d at 100 GeV</text>
<path d="M498.40,255.20H502.10" stroke="#1a1a1a" stroke-width="0.85"/>
<rect x="401.10" y="278.60" width="180.2" height="33.8" rx="2.2" fill="#fff" fill-opacity="0.8" stroke="#d6d6d6" stroke-width="0.8"/>
<rect x="404.90" y="283.40" width="21.4" height="7" fill="#66c2a5" fill-opacity="0.5" stroke="#66c2a5" stroke-width="1" stroke-dasharray="3,1.5"/>
<path d="M410.10,290.00L416.30,284.30" stroke="#777" stroke-width="0.9"/>
<text x="435.10" y="291.40" font-size="10.4" textLength="117.7" lengthAdjust="spacingAndGlyphs">NNPDF4.0 (68 c.l.+1σ)</text>
<rect x="404.90" y="298.40" width="21.4" height="7" fill="#fc8d62" fill-opacity="0.5" stroke="#fc8d62" stroke-width="1" stroke-dasharray="3,1.5"/>
<path d="M409.70,300.00L415.80,305.30" stroke="#777" stroke-width="0.9"/>
<text x="435.10" y="306.40" font-size="10.4" textLength="140.5" lengthAdjust="spacingAndGlyphs">NNPDF3.1-like (68 c.l.+1σ)</text>
<path d="M63.13,529.40V724.50M128.33,529.40V724.50M193.53,529.40V724.50M258.73,529.40V724.50M323.93,529.40V724.50M43.50,724.50H326.60M43.50,691.98H326.60M43.50,659.47H326.60M43.50,626.95H326.60M43.50,594.43H326.60M43.50,561.92H326.60M43.50,529.40H326.60" stroke="#f3f3f3" stroke-width="0.9" fill="none"/>
<g clip-path="url(#cp4)"><path d="M42.8,615.8L78.1,620.4L92.7,621.5L100.9,621.8L107.7,621.8L115.5,621.5L127.0,620.7L134.8,619.9L152.7,617.4L164.4,615.4L167.7,614.6L174.9,612.1L178.1,611.2L183.7,610.2L198.3,608.2L211.4,605.5L221.2,602.7L228.3,599.8L232.6,597.6L236.8,595.1L241.1,592.3L245.0,589.4L247.6,586.9L249.9,584.3L251.5,582.0L253.1,579.1L256.4,572.4L261.3,560.7L272.7,534.9L275.0,529.2L276.9,523.4L278.9,516.8L286.0,489.5L312.6,489.4L312.6,764.5L286.4,764.5L278.9,735.0L275.3,722.5L269.4,706.1L261.9,683.1L258.7,675.1L256.7,671.1L254.7,668.2L251.8,665.9L243.7,661.5L232.3,654.7L225.7,650.4L223.1,649.0L218.6,647.3L213.0,645.6L207.5,644.3L201.6,643.2L195.7,642.4L177.8,640.8L166.7,638.5L161.5,637.6L135.4,633.9L127.0,632.9L113.6,631.8L107.4,631.5L101.5,631.5L82.6,632.2L77.1,632.7L63.7,634.7L42.8,636.8Z" fill="#66c2a5" fill-opacity="0.5"/><path d="M42.8,615.8L78.1,620.4L92.7,621.5L100.9,621.8L107.7,621.8L115.5,621.5L127.0,620.7L134.8,619.9L152.7,617.4L164.4,615.4L167.7,614.6L174.9,612.1L178.1,611.2L183.7,610.2L198.3,608.2L211.4,605.5L221.2,602.7L228.3,599.8L232.6,597.6L236.8,595.1L241.1,592.3L245.0,589.4L247.6,586.9L249.9,584.3L251.5,582.0L253.1,579.1L256.4,572.4L261.3,560.7L272.7,534.9L275.0,529.2L276.9,523.4L278.9,516.8L286.0,489.5L312.6,489.4L312.6,764.5L286.4,764.5L278.9,735.0L275.3,722.5L269.4,706.1L261.9,683.1L258.7,675.1L256.7,671.1L254.7,668.2L251.8,665.9L243.7,661.5L232.3,654.7L225.7,650.4L223.1,649.0L218.6,647.3L213.0,645.6L207.5,644.3L201.6,643.2L195.7,642.4L177.8,640.8L166.7,638.5L161.5,637.6L135.4,633.9L127.0,632.9L113.6,631.8L107.4,631.5L101.5,631.5L82.6,632.2L77.1,632.7L63.7,634.7L42.8,636.8Z" fill="url(#hg4)" stroke="#66c2a5" stroke-width="0.6" stroke-opacity="0.7"/><path d="M42.8,619.9L60.8,621.7L74.8,622.6L82.6,622.9L87.2,622.8L92.4,622.5L106.4,620.6L111.6,619.4L123.7,616.0L155.0,608.2L161.2,606.4L167.1,604.3L174.6,599.6L177.8,598.1L184.7,596.8L199.7,594.8L216.6,591.7L224.1,589.7L233.6,585.6L237.1,584.3L240.1,583.7L246.6,583.0L248.6,582.5L249.5,581.7L250.8,579.7L255.1,570.8L256.7,566.8L260.6,555.8L263.2,549.4L267.8,539.1L272.7,529.3L274.3,525.5L278.5,513.5L285.7,490.0L286.0,489.4L312.6,489.4L312.6,764.5L293.2,764.5L281.8,704.8L277.9,690.1L276.3,685.2L275.0,682.3L274.0,680.7L272.4,678.6L265.8,672.8L255.1,659.9L250.2,654.7L245.6,650.2L240.1,645.3L234.9,641.2L227.7,636.3L223.1,633.7L212.0,629.4L207.8,628.2L203.9,627.3L201.0,627.0L196.7,626.8L177.5,626.6L174.6,626.8L165.7,628.2L143.6,629.1L110.0,630.8L88.2,632.3L80.0,633.3L63.7,636.8L52.3,638.3L42.8,639.2Z" fill="#fc8d62" fill-opacity="0.5"/><path d="M42.8,619.9L60.8,621.7L74.8,622.6L82.6,622.9L87.2,622.8L92.4,622.5L106.4,620.6L111.6,619.4L123.7,616.0L155.0,608.2L161.2,606.4L167.1,604.3L174.6,599.6L177.8,598.1L184.7,596.8L199.7,594.8L216.6,591.7L224.1,589.7L233.6,585.6L237.1,584.3L240.1,583.7L246.6,583.0L248.6,582.5L249.5,581.7L250.8,579.7L255.1,570.8L256.7,566.8L260.6,555.8L263.2,549.4L267.8,539.1L272.7,529.3L274.3,525.5L278.5,513.5L285.7,490.0L286.0,489.4L312.6,489.4L312.6,764.5L293.2,764.5L281.8,704.8L277.9,690.1L276.3,685.2L275.0,682.3L274.0,680.7L272.4,678.6L265.8,672.8L255.1,659.9L250.2,654.7L245.6,650.2L240.1,645.3L234.9,641.2L227.7,636.3L223.1,633.7L212.0,629.4L207.8,628.2L203.9,627.3L201.0,627.0L196.7,626.8L177.5,626.6L174.6,626.8L165.7,628.2L143.6,629.1L110.0,630.8L88.2,632.3L80.0,633.3L63.7,636.8L52.3,638.3L42.8,639.2Z" fill="url(#ho4)" stroke="#fc8d62" stroke-width="0.6" stroke-opacity="0.7"/><path d="M42.8,615.8L78.1,620.4L92.7,621.5L100.9,621.8L107.7,621.8L115.5,621.5L127.0,620.7L134.8,619.9L152.7,617.4L164.4,615.4L167.7,614.6L174.9,612.1L178.1,611.2L183.7,610.2L198.3,608.2L211.4,605.5L221.2,602.7L228.3,599.8L232.6,597.6L236.8,595.1L241.1,592.3L245.0,589.4L247.6,586.9L249.9,584.3L251.5,582.0L253.1,579.1L256.4,572.4L261.3,560.7L272.7,534.9L275.0,529.2L276.9,523.4L278.9,516.8L286.0,489.5L312.6,489.4" fill="none" stroke="#66c2a5" stroke-width="1.7" stroke-dasharray="5,2.2"/><path d="M42.8,636.8L63.7,634.7L77.1,632.7L82.6,632.2L101.5,631.5L107.4,631.5L113.6,631.8L127.0,632.9L135.4,633.9L161.5,637.6L166.7,638.5L177.8,640.8L195.7,642.4L201.6,643.2L207.5,644.3L213.0,645.6L218.6,647.3L223.1,649.0L225.7,650.4L232.3,654.7L243.7,661.5L251.8,665.9L254.7,668.2L256.7,671.1L258.7,675.1L261.9,683.1L269.4,706.1L275.3,722.5L278.9,735.0L286.4,764.5L312.6,764.5" fill="none" stroke="#66c2a5" stroke-width="1.7" stroke-dasharray="5,2.2"/><path d="M43.50,626.95H312.58" stroke="#66c2a5" stroke-width="1.6"/><path d="M42.8,619.9L60.8,621.7L74.8,622.6L82.6,622.9L87.2,622.8L92.4,622.5L106.4,620.6L111.6,619.4L123.7,616.0L155.0,608.2L161.2,606.4L167.1,604.3L174.6,599.6L177.8,598.1L184.7,596.8L199.7,594.8L216.6,591.7L224.1,589.7L233.6,585.6L237.1,584.3L240.1,583.7L246.6,583.0L248.6,582.5L249.5,581.7L250.8,579.7L255.1,570.8L256.7,566.8L260.6,555.8L263.2,549.4L267.8,539.1L272.7,529.3L274.3,525.5L278.5,513.5L285.7,490.0L286.0,489.4L312.6,489.4" fill="none" stroke="#fc8d62" stroke-width="1.7" stroke-dasharray="5,2.2"/><path d="M42.8,639.2L52.3,638.3L63.7,636.8L80.0,633.3L88.2,632.3L110.0,630.8L143.6,629.1L165.7,628.2L174.6,626.8L177.5,626.6L196.7,626.8L201.0,627.0L203.9,627.3L207.8,628.2L212.0,629.4L223.1,633.7L227.7,636.3L234.9,641.2L240.1,645.3L245.6,650.2L250.2,654.7L255.1,659.9L265.8,672.8L272.4,678.6L274.0,680.7L275.0,682.3L276.3,685.2L277.9,690.1L281.8,704.8L293.2,764.5L312.6,764.5" fill="none" stroke="#fc8d62" stroke-width="1.7" stroke-dasharray="5,2.2"/><path d="M42.8,629.0L70.2,628.9L86.2,627.9L97.9,626.7L109.4,625.3L142.3,620.3L164.4,616.5L179.4,614.3L191.8,612.0L198.3,611.2L202.6,611.3L207.5,611.8L222.1,614.6L226.4,615.7L235.8,618.7L240.7,619.8L243.3,620.0L254.7,620.0L256.7,619.4L258.3,618.4L260.6,616.3L266.8,610.0L272.4,603.5L274.6,601.3L275.9,600.5L277.6,600.0L284.4,599.0L287.3,598.1L288.0,597.7L288.7,596.9L290.0,594.2L292.2,588.2L293.9,583.0L295.2,577.4L296.5,570.1L297.5,561.7L298.4,549.9L299.4,529.6L299.7,526.1L302.0,506.2L304.3,489.7L304.6,489.4L312.6,489.4" fill="none" stroke="#fc8d62" stroke-width="1.4"/></g>
<path d="M43.50,529.40V724.50H326.60" stroke="#262626" stroke-width="1" fill="none"/>
<text x="36.90" y="728.20" font-size="10.4" text-anchor="end" textLength="22.2" lengthAdjust="spacingAndGlyphs">0.85</text>
<text x="36.90" y="695.68" font-size="10.4" text-anchor="end" textLength="22.2" lengthAdjust="spacingAndGlyphs">0.90</text>
<text x="36.90" y="663.17" font-size="10.4" text-anchor="end" textLength="22.2" lengthAdjust="spacingAndGlyphs">0.95</text>
<text x="36.90" y="630.65" font-size="10.4" text-anchor="end" textLength="22.2" lengthAdjust="spacingAndGlyphs">1.00</text>
<text x="36.90" y="598.13" font-size="10.4" text-anchor="end" textLength="22.2" lengthAdjust="spacingAndGlyphs">1.05</text>
<text x="36.90" y="565.62" font-size="10.4" text-anchor="end" textLength="22.2" lengthAdjust="spacingAndGlyphs">1.10</text>
<text x="36.90" y="533.10" font-size="10.4" text-anchor="end" textLength="22.2" lengthAdjust="spacingAndGlyphs">1.15</text>
<text x="51.73" y="738.70" font-size="10.4" textLength="11.6" lengthAdjust="spacingAndGlyphs">10</text>
<text x="64.73" y="735.00" font-size="7.4" textLength="9.6" lengthAdjust="spacingAndGlyphs">−4</text>
<text x="116.93" y="738.70" font-size="10.4" textLength="11.6" lengthAdjust="spacingAndGlyphs">10</text>
<text x="129.93" y="735.00" font-size="7.4" textLength="9.6" lengthAdjust="spacingAndGlyphs">−3</text>
<text x="182.13" y="738.70" font-size="10.4" textLength="11.6" lengthAdjust="spacingAndGlyphs">10</text>
<text x="195.13" y="735.00" font-size="7.4" textLength="9.6" lengthAdjust="spacingAndGlyphs">−2</text>
<text x="247.33" y="738.70" font-size="10.4" textLength="11.6" lengthAdjust="spacingAndGlyphs">10</text>
<text x="260.33" y="735.00" font-size="7.4" textLength="9.6" lengthAdjust="spacingAndGlyphs">−1</text>
<text x="315.73" y="738.70" font-size="10.4" textLength="11.6" lengthAdjust="spacingAndGlyphs">10</text>
<text x="328.73" y="735.00" font-size="7.4">0</text>
<path d="M40.00,724.50H43.50M40.00,691.98H43.50M40.00,659.47H43.50M40.00,626.95H43.50M40.00,594.43H43.50M40.00,561.92H43.50M40.00,529.40H43.50M63.13,724.50v3.5M128.33,724.50v3.5M193.53,724.50v3.5M258.73,724.50v3.5M323.93,724.50v3.5" stroke="#262626" stroke-width="0.9" fill="none"/>
<path d="M43.50,724.50v2M48.66,724.50v2M53.03,724.50v2M56.81,724.50v2M60.14,724.50v2M82.75,724.50v2M94.24,724.50v2M102.38,724.50v2M108.70,724.50v2M113.86,724.50v2M118.23,724.50v2M122.01,724.50v2M125.34,724.50v2M147.95,724.50v2M159.44,724.50v2M167.58,724.50v2M173.90,724.50v2M179.06,724.50v2M183.43,724.50v2M187.21,724.50v2M190.54,724.50v2M213.15,724.50v2M224.64,724.50v2M232.78,724.50v2M239.10,724.50v2M244.26,724.50v2M248.63,724.50v2M252.41,724.50v2M255.74,724.50v2M278.35,724.50v2M289.84,724.50v2M297.98,724.50v2M304.30,724.50v2M309.46,724.50v2M313.83,724.50v2M317.61,724.50v2M320.94,724.50v2" stroke="#3a3a3a" stroke-width="0.6" fill="none"/>
<text x="185.05" y="752.50" font-size="10.4" text-anchor="middle">x</text>
<text transform="translate(7.50,626.95) rotate(-90)" font-size="10.4" text-anchor="middle" textLength="96.4" lengthAdjust="spacingAndGlyphs">Ratio to NNPDF4.0</text>
<text x="144.10" y="523.20" font-size="12.8" textLength="82" lengthAdjust="spacingAndGlyphs">s at 100 GeV</text>
<rect x="49.20" y="534.60" width="180.2" height="33.8" rx="2.2" fill="#fff" fill-opacity="0.8" stroke="#d6d6d6" stroke-width="0.8"/>
<rect x="53.00" y="539.40" width="21.4" height="7" fill="#66c2a5" fill-opacity="0.5" stroke="#66c2a5" stroke-width="1" stroke-dasharray="3,1.5"/>
<path d="M58.20,546.00L64.40,540.30" stroke="#777" stroke-width="0.9"/>
<text x="83.20" y="547.40" font-size="10.4" textLength="117.7" lengthAdjust="spacingAndGlyphs">NNPDF4.0 (68 c.l.+1σ)</text>
<rect x="53.00" y="554.40" width="21.4" height="7" fill="#fc8d62" fill-opacity="0.5" stroke="#fc8d62" stroke-width="1" stroke-dasharray="3,1.5"/>
<path d="M57.80,556.00L63.90,561.30" stroke="#777" stroke-width="0.9"/>
<text x="83.20" y="562.40" font-size="10.4" textLength="140.5" lengthAdjust="spacingAndGlyphs">NNPDF3.1-like (68 c.l.+1σ)</text>
<path d="M415.03,529.40V724.50M480.23,529.40V724.50M545.43,529.40V724.50M610.63,529.40V724.50M675.83,529.40V724.50M395.40,724.50H678.50M395.40,691.98H678.50M395.40,659.47H678.50M395.40,626.95H678.50M395.40,594.43H678.50M395.40,561.92H678.50M395.40,529.40H678.50" stroke="#f3f3f3" stroke-width="0.9" fill="none"/>
<g clip-path="url(#cp5)"><path d="M394.7,616.3L426.7,620.2L435.2,620.9L448.5,621.2L458.6,621.3L465.8,620.9L477.6,619.8L483.7,619.0L517.3,613.8L550.2,607.2L563.0,604.3L571.4,602.1L579.3,599.4L586.8,596.2L592.0,593.6L596.5,591.0L599.5,588.9L603.1,586.0L609.9,579.7L613.5,576.0L616.8,571.9L619.4,567.7L622.6,560.5L625.6,552.3L628.8,540.2L633.4,522.1L642.5,489.4L664.5,489.4L664.5,764.5L642.8,764.5L634.0,727.7L628.8,704.1L626.2,695.5L623.6,688.6L621.0,682.9L618.4,678.1L614.8,672.8L611.5,668.6L608.6,665.5L605.7,663.0L601.8,660.3L597.5,658.0L593.6,656.4L589.0,654.8L574.7,650.9L559.7,646.1L552.9,644.3L542.1,642.4L517.3,639.2L498.7,635.5L482.8,633.3L461.6,631.6L455.1,631.5L445.6,631.7L431.3,632.4L415.9,634.1L394.7,636.2Z" fill="#66c2a5" fill-opacity="0.5"/><path d="M394.7,616.3L426.7,620.2L435.2,620.9L448.5,621.2L458.6,621.3L465.8,620.9L477.6,619.8L483.7,619.0L517.3,613.8L550.2,607.2L563.0,604.3L571.4,602.1L579.3,599.4L586.8,596.2L592.0,593.6L596.5,591.0L599.5,588.9L603.1,586.0L609.9,579.7L613.5,576.0L616.8,571.9L619.4,567.7L622.6,560.5L625.6,552.3L628.8,540.2L633.4,522.1L642.5,489.4L664.5,489.4L664.5,764.5L642.8,764.5L634.0,727.7L628.8,704.1L626.2,695.5L623.6,688.6L621.0,682.9L618.4,678.1L614.8,672.8L611.5,668.6L608.6,665.5L605.7,663.0L601.8,660.3L597.5,658.0L593.6,656.4L589.0,654.8L574.7,650.9L559.7,646.1L552.9,644.3L542.1,642.4L517.3,639.2L498.7,635.5L482.8,633.3L461.6,631.6L455.1,631.5L445.6,631.7L431.3,632.4L415.9,634.1L394.7,636.2Z" fill="url(#hg5)" stroke="#66c2a5" stroke-width="0.6" stroke-opacity="0.7"/><path d="M394.7,619.9L404.9,621.0L412.4,621.7L424.4,622.3L433.9,622.5L438.8,622.5L443.6,622.2L460.3,620.4L478.9,617.4L496.1,613.9L519.9,609.8L552.9,603.3L567.5,600.7L572.4,599.5L576.3,598.4L580.2,596.9L584.8,594.8L597.2,588.3L601.1,585.8L604.7,583.1L608.3,579.8L611.2,576.6L613.8,573.2L616.1,569.2L619.7,561.0L622.0,554.1L624.3,545.3L627.2,529.2L629.8,518.5L633.7,504.9L638.9,489.4L664.5,489.4L664.5,764.5L645.1,764.5L640.6,744.2L638.9,734.9L637.6,725.5L637.0,719.6L634.4,683.6L633.1,671.0L631.4,663.8L629.8,659.1L628.5,657.1L626.9,655.9L625.2,655.0L623.3,654.3L621.3,653.8L612.5,652.7L607.3,651.2L593.6,645.3L584.2,639.9L580.9,638.2L577.6,637.0L574.7,636.4L569.5,636.5L552.9,637.5L547.3,637.4L530.7,636.4L527.1,636.5L519.6,637.2L516.3,637.2L510.8,636.6L498.1,634.3L483.1,632.5L469.1,631.8L455.1,631.5L447.2,631.9L434.8,633.3L415.9,636.8L404.2,638.3L394.7,639.2Z" fill="#fc8d62" fill-opacity="0.5"/><path d="M394.7,619.9L404.9,621.0L412.4,621.7L424.4,622.3L433.9,622.5L438.8,622.5L443.6,622.2L460.3,620.4L478.9,617.4L496.1,613.9L519.9,609.8L552.9,603.3L567.5,600.7L572.4,599.5L576.3,598.4L580.2,596.9L584.8,594.8L597.2,588.3L601.1,585.8L604.7,583.1L608.3,579.8L611.2,576.6L613.8,573.2L616.1,569.2L619.7,561.0L622.0,554.1L624.3,545.3L627.2,529.2L629.8,518.5L633.7,504.9L638.9,489.4L664.5,489.4L664.5,764.5L645.1,764.5L640.6,744.2L638.9,734.9L637.6,725.5L637.0,719.6L634.4,683.6L633.1,671.0L631.4,663.8L629.8,659.1L628.5,657.1L626.9,655.9L625.2,655.0L623.3,654.3L621.3,653.8L612.5,652.7L607.3,651.2L593.6,645.3L584.2,639.9L580.9,638.2L577.6,637.0L574.7,636.4L569.5,636.5L552.9,637.5L547.3,637.4L530.7,636.4L527.1,636.5L519.6,637.2L516.3,637.2L510.8,636.6L498.1,634.3L483.1,632.5L469.1,631.8L455.1,631.5L447.2,631.9L434.8,633.3L415.9,636.8L404.2,638.3L394.7,639.2Z" fill="url(#ho5)" stroke="#fc8d62" stroke-width="0.6" stroke-opacity="0.7"/><path d="M394.7,616.3L426.7,620.2L435.2,620.9L448.5,621.2L458.6,621.3L465.8,620.9L477.6,619.8L483.7,619.0L517.3,613.8L550.2,607.2L563.0,604.3L571.4,602.1L579.3,599.4L586.8,596.2L592.0,593.6L596.5,591.0L599.5,588.9L603.1,586.0L609.9,579.7L613.5,576.0L616.8,571.9L619.4,567.7L622.6,560.5L625.6,552.3L628.8,540.2L633.4,522.1L642.5,489.4L664.5,489.4" fill="none" stroke="#66c2a5" stroke-width="1.7" stroke-dasharray="5,2.2"/><path d="M394.7,636.2L415.9,634.1L431.3,632.4L445.6,631.7L455.1,631.5L461.6,631.6L482.8,633.3L498.7,635.5L517.3,639.2L542.1,642.4L552.9,644.3L559.7,646.1L574.7,650.9L589.0,654.8L593.6,656.4L597.5,658.0L601.8,660.3L605.7,663.0L608.6,665.5L611.5,668.6L614.8,672.8L618.4,678.1L621.0,682.9L623.6,688.6L626.2,695.5L628.8,704.1L634.0,727.7L642.8,764.5L664.5,764.5" fill="none" stroke="#66c2a5" stroke-width="1.7" stroke-dasharray="5,2.2"/><path d="M395.40,626.95H664.48" stroke="#66c2a5" stroke-width="1.6"/><path d="M394.7,619.9L404.9,621.0L412.4,621.7L424.4,622.3L433.9,622.5L438.8,622.5L443.6,622.2L460.3,620.4L478.9,617.4L496.1,613.9L519.9,609.8L552.9,603.3L567.5,600.7L572.4,599.5L576.3,598.4L580.2,596.9L584.8,594.8L597.2,588.3L601.1,585.8L604.7,583.1L608.3,579.8L611.2,576.6L613.8,573.2L616.1,569.2L619.7,561.0L622.0,554.1L624.3,545.3L627.2,529.2L629.8,518.5L633.7,504.9L638.9,489.4L664.5,489.4" fill="none" stroke="#fc8d62" stroke-width="1.7" stroke-dasharray="5,2.2"/><path d="M394.7,639.2L404.2,638.3L415.9,636.8L434.8,633.3L447.2,631.9L455.1,631.5L469.1,631.8L483.1,632.5L498.1,634.3L510.8,636.6L516.3,637.2L519.6,637.2L527.1,636.5L530.7,636.4L547.3,637.4L552.9,637.5L569.5,636.5L574.7,636.4L577.6,637.0L580.9,638.2L584.2,639.9L593.6,645.3L607.3,651.2L612.5,652.7L621.3,653.8L623.3,654.3L625.2,655.0L626.9,655.9L628.5,657.1L629.8,659.1L631.4,663.8L633.1,671.0L634.4,683.6L637.0,719.6L637.6,725.5L638.9,734.9L640.6,744.2L645.1,764.5L664.5,764.5" fill="none" stroke="#fc8d62" stroke-width="1.7" stroke-dasharray="5,2.2"/><path d="M394.7,628.1L416.6,628.1L425.1,627.9L438.8,627.3L459.6,625.8L493.5,624.1L512.8,623.4L533.6,623.1L539.2,622.6L551.6,621.1L591.3,617.2L599.5,616.1L604.7,615.1L608.3,613.9L611.5,612.2L615.1,609.3L618.4,605.9L620.7,601.8L624.6,592.8L628.8,580.5L630.4,576.6L633.1,571.9L634.7,569.4L636.0,568.0L637.3,567.4L638.3,568.0L639.6,570.4L641.2,574.8L642.2,578.2L643.2,584.1L645.8,603.2L648.7,618.7L650.7,627.4L651.6,630.7L652.6,633.1L654.6,636.5L655.2,637.2L655.9,637.5L656.2,637.3L656.5,636.4L657.5,630.9L659.8,608.9L661.7,576.9L664.5,520.9" fill="none" stroke="#fc8d62" stroke-width="1.4"/></g>
<path d="M395.40,529.40V724.50H678.50" stroke="#262626" stroke-width="1" fill="none"/>
<text x="388.80" y="728.20" font-size="10.4" text-anchor="end" textLength="22.2" lengthAdjust="spacingAndGlyphs">0.85</text>
<text x="388.80" y="695.68" font-size="10.4" text-anchor="end" textLength="22.2" lengthAdjust="spacingAndGlyphs">0.90</text>
<text x="388.80" y="663.17" font-size="10.4" text-anchor="end" textLength="22.2" lengthAdjust="spacingAndGlyphs">0.95</text>
<text x="388.80" y="630.65" font-size="10.4" text-anchor="end" textLength="22.2" lengthAdjust="spacingAndGlyphs">1.00</text>
<text x="388.80" y="598.13" font-size="10.4" text-anchor="end" textLength="22.2" lengthAdjust="spacingAndGlyphs">1.05</text>
<text x="388.80" y="565.62" font-size="10.4" text-anchor="end" textLength="22.2" lengthAdjust="spacingAndGlyphs">1.10</text>
<text x="388.80" y="533.10" font-size="10.4" text-anchor="end" textLength="22.2" lengthAdjust="spacingAndGlyphs">1.15</text>
<text x="403.63" y="738.70" font-size="10.4" textLength="11.6" lengthAdjust="spacingAndGlyphs">10</text>
<text x="416.63" y="735.00" font-size="7.4" textLength="9.6" lengthAdjust="spacingAndGlyphs">−4</text>
<text x="468.83" y="738.70" font-size="10.4" textLength="11.6" lengthAdjust="spacingAndGlyphs">10</text>
<text x="481.83" y="735.00" font-size="7.4" textLength="9.6" lengthAdjust="spacingAndGlyphs">−3</text>
<text x="534.03" y="738.70" font-size="10.4" textLength="11.6" lengthAdjust="spacingAndGlyphs">10</text>
<text x="547.03" y="735.00" font-size="7.4" textLength="9.6" lengthAdjust="spacingAndGlyphs">−2</text>
<text x="599.23" y="738.70" font-size="10.4" textLength="11.6" lengthAdjust="spacingAndGlyphs">10</text>
<text x="612.23" y="735.00" font-size="7.4" textLength="9.6" lengthAdjust="spacingAndGlyphs">−1</text>
<text x="667.63" y="738.70" font-size="10.4" textLength="11.6" lengthAdjust="spacingAndGlyphs">10</text>
<text x="680.63" y="735.00" font-size="7.4">0</text>
<path d="M391.90,724.50H395.40M391.90,691.98H395.40M391.90,659.47H395.40M391.90,626.95H395.40M391.90,594.43H395.40M391.90,561.92H395.40M391.90,529.40H395.40M415.03,724.50v3.5M480.23,724.50v3.5M545.43,724.50v3.5M610.63,724.50v3.5M675.83,724.50v3.5" stroke="#262626" stroke-width="0.9" fill="none"/>
<path d="M395.40,724.50v2M400.56,724.50v2M404.93,724.50v2M408.71,724.50v2M412.04,724.50v2M434.65,724.50v2M446.14,724.50v2M454.28,724.50v2M460.60,724.50v2M465.76,724.50v2M470.13,724.50v2M473.91,724.50v2M477.24,724.50v2M499.85,724.50v2M511.34,724.50v2M519.48,724.50v2M525.80,724.50v2M530.96,724.50v2M535.33,724.50v2M539.11,724.50v2M542.44,724.50v2M565.05,724.50v2M576.54,724.50v2M584.68,724.50v2M591.00,724.50v2M596.16,724.50v2M600.53,724.50v2M604.31,724.50v2M607.64,724.50v2M630.25,724.50v2M641.74,724.50v2M649.88,724.50v2M656.20,724.50v2M661.36,724.50v2M665.73,724.50v2M669.51,724.50v2M672.84,724.50v2" stroke="#3a3a3a" stroke-width="0.6" fill="none"/>
<text x="536.95" y="752.50" font-size="10.4" text-anchor="middle">x</text>
<text transform="translate(359.50,626.95) rotate(-90)" font-size="10.4" text-anchor="middle" textLength="96.4" lengthAdjust="spacingAndGlyphs">Ratio to NNPDF4.0</text>
<text x="495.60" y="523.20" font-size="12.8" textLength="82" lengthAdjust="spacingAndGlyphs">s at 100 GeV</text>
<path d="M496.60,514.50H500.70" stroke="#1a1a1a" stroke-width="0.85"/>
<rect x="401.10" y="534.60" width="180.2" height="33.8" rx="2.2" fill="#fff" fill-opacity="0.8" stroke="#d6d6d6" stroke-width="0.8"/>
<rect x="404.90" y="539.40" width="21.4" height="7" fill="#66c2a5" fill-opacity="0.5" stroke="#66c2a5" stroke-width="1" stroke-dasharray="3,1.5"/>
<path d="M410.10,546.00L416.30,540.30" stroke="#777" stroke-width="0.9"/>
<text x="435.10" y="547.40" font-size="10.4" textLength="117.7" lengthAdjust="spacingAndGlyphs">NNPDF4.0 (68 c.l.+1σ)</text>
<rect x="404.90" y="554.40" width="21.4" height="7" fill="#fc8d62" fill-opacity="0.5" stroke="#fc8d62" stroke-width="1" stroke-dasharray="3,1.5"/>
<path d="M409.70,556.00L415.80,561.30" stroke="#777" stroke-width="0.9"/>
<text x="435.10" y="562.40" font-size="10.4" textLength="140.5" lengthAdjust="spacingAndGlyphs">NNPDF3.1-like (68 c.l.+1σ)</text>
<path d="M63.13,785.40V980.50M128.33,785.40V980.50M193.53,785.40V980.50M258.73,785.40V980.50M323.93,785.40V980.50M43.50,980.50H326.60M43.50,947.98H326.60M43.50,915.47H326.60M43.50,882.95H326.60M43.50,850.43H326.60M43.50,817.92H326.60M43.50,785.40H326.60" stroke="#f3f3f3" stroke-width="0.9" fill="none"/>
<g clip-path="url(#cp6)"><path d="M42.8,871.3L79.0,875.0L96.6,876.2L103.8,876.4L145.2,876.4L146.5,876.8L149.1,878.4L149.8,878.6L151.4,878.6L158.6,878.1L175.9,876.0L217.3,873.1L229.3,872.0L235.2,871.1L243.0,869.6L247.6,868.2L251.5,866.7L254.7,864.9L256.7,863.5L259.0,861.3L260.9,858.8L261.9,857.2L262.9,855.0L266.2,845.8L268.4,838.0L270.4,830.2L277.6,794.5L280.2,782.6L284.4,766.1L290.3,745.5L290.6,745.4L312.6,745.4L312.6,1020.5L290.6,1020.5L284.1,998.8L278.9,979.4L274.3,958.9L270.1,937.8L267.5,926.6L265.5,919.6L262.6,911.5L261.3,908.9L259.6,906.4L257.7,903.9L256.1,902.2L254.4,901.0L251.8,899.6L246.6,897.7L237.1,895.1L229.6,893.4L222.8,892.5L215.0,891.9L183.4,890.4L162.2,890.0L146.5,888.8L128.3,887.7L118.8,887.8L82.9,889.8L42.8,893.8Z" fill="#66c2a5" fill-opacity="0.5"/><path d="M42.8,871.3L79.0,875.0L96.6,876.2L103.8,876.4L145.2,876.4L146.5,876.8L149.1,878.4L149.8,878.6L151.4,878.6L158.6,878.1L175.9,876.0L217.3,873.1L229.3,872.0L235.2,871.1L243.0,869.6L247.6,868.2L251.5,866.7L254.7,864.9L256.7,863.5L259.0,861.3L260.9,858.8L261.9,857.2L262.9,855.0L266.2,845.8L268.4,838.0L270.4,830.2L277.6,794.5L280.2,782.6L284.4,766.1L290.3,745.5L290.6,745.4L312.6,745.4L312.6,1020.5L290.6,1020.5L284.1,998.8L278.9,979.4L274.3,958.9L270.1,937.8L267.5,926.6L265.5,919.6L262.6,911.5L261.3,908.9L259.6,906.4L257.7,903.9L256.1,902.2L254.4,901.0L251.8,899.6L246.6,897.7L237.1,895.1L229.6,893.4L222.8,892.5L215.0,891.9L183.4,890.4L162.2,890.0L146.5,888.8L128.3,887.7L118.8,887.8L82.9,889.8L42.8,893.8Z" fill="url(#hg6)" stroke="#66c2a5" stroke-width="0.6" stroke-opacity="0.7"/><path d="M42.8,867.7L56.2,869.1L68.3,870.0L92.1,871.3L101.9,871.7L114.2,871.6L128.6,871.1L137.1,870.4L145.5,869.2L174.9,859.2L178.8,857.4L186.0,853.2L189.2,851.5L192.8,850.1L201.0,847.4L206.5,845.0L211.1,842.8L216.0,840.1L227.4,831.9L233.6,828.3L236.8,826.7L240.1,825.8L252.5,824.5L257.0,823.3L259.0,823.0L260.9,823.4L263.5,825.0L266.2,827.3L268.1,830.0L270.1,833.5L271.4,836.6L274.6,846.1L277.9,856.3L280.5,862.3L281.8,864.7L282.8,865.9L284.7,866.9L286.4,867.2L286.7,866.9L287.0,866.0L287.7,863.2L290.0,851.3L291.3,843.0L292.6,832.4L297.5,783.0L299.7,767.9L304.0,745.9L304.3,745.4L312.6,745.4L312.6,1020.5L286.0,1020.5L285.7,1019.7L281.8,1008.7L279.5,1001.5L277.2,992.8L275.3,983.8L274.3,978.5L273.7,973.6L270.4,940.9L269.7,935.9L268.4,928.5L265.8,916.7L261.6,895.3L259.0,883.5L257.4,877.4L254.4,870.4L253.4,868.9L252.8,868.4L243.3,868.3L240.1,869.8L235.8,870.7L227.7,871.9L218.9,872.8L187.6,874.5L152.4,878.3L149.4,878.3L145.5,877.4L141.3,877.6L136.7,878.3L125.0,880.4L90.4,884.9L67.9,887.2L42.8,889.3Z" fill="#fc8d62" fill-opacity="0.5"/><path d="M42.8,867.7L56.2,869.1L68.3,870.0L92.1,871.3L101.9,871.7L114.2,871.6L128.6,871.1L137.1,870.4L145.5,869.2L174.9,859.2L178.8,857.4L186.0,853.2L189.2,851.5L192.8,850.1L201.0,847.4L206.5,845.0L211.1,842.8L216.0,840.1L227.4,831.9L233.6,828.3L236.8,826.7L240.1,825.8L252.5,824.5L257.0,823.3L259.0,823.0L260.9,823.4L263.5,825.0L266.2,827.3L268.1,830.0L270.1,833.5L271.4,836.6L274.6,846.1L277.9,856.3L280.5,862.3L281.8,864.7L282.8,865.9L284.7,866.9L286.4,867.2L286.7,866.9L287.0,866.0L287.7,863.2L290.0,851.3L291.3,843.0L292.6,832.4L297.5,783.0L299.7,767.9L304.0,745.9L304.3,745.4L312.6,745.4L312.6,1020.5L286.0,1020.5L285.7,1019.7L281.8,1008.7L279.5,1001.5L277.2,992.8L275.3,983.8L274.3,978.5L273.7,973.6L270.4,940.9L269.7,935.9L268.4,928.5L265.8,916.7L261.6,895.3L259.0,883.5L257.4,877.4L254.4,870.4L253.4,868.9L252.8,868.4L243.3,868.3L240.1,869.8L235.8,870.7L227.7,871.9L218.9,872.8L187.6,874.5L152.4,878.3L149.4,878.3L145.5,877.4L141.3,877.6L136.7,878.3L125.0,880.4L90.4,884.9L67.9,887.2L42.8,889.3Z" fill="url(#ho6)" stroke="#fc8d62" stroke-width="0.6" stroke-opacity="0.7"/><path d="M42.8,871.3L79.0,875.0L96.6,876.2L103.8,876.4L145.2,876.4L146.5,876.8L149.1,878.4L149.8,878.6L151.4,878.6L158.6,878.1L175.9,876.0L217.3,873.1L229.3,872.0L235.2,871.1L243.0,869.6L247.6,868.2L251.5,866.7L254.7,864.9L256.7,863.5L259.0,861.3L260.9,858.8L261.9,857.2L262.9,855.0L266.2,845.8L268.4,838.0L270.4,830.2L277.6,794.5L280.2,782.6L284.4,766.1L290.3,745.5L290.6,745.4L312.6,745.4" fill="none" stroke="#66c2a5" stroke-width="1.7" stroke-dasharray="5,2.2"/><path d="M42.8,893.8L82.9,889.8L118.8,887.8L128.3,887.7L146.5,888.8L162.2,890.0L183.4,890.4L215.0,891.9L222.8,892.5L229.6,893.4L237.1,895.1L246.6,897.7L251.8,899.6L254.4,901.0L256.1,902.2L257.7,903.9L259.6,906.4L261.3,908.9L262.6,911.5L265.5,919.6L267.5,926.6L270.1,937.8L274.3,958.9L278.9,979.4L284.1,998.8L290.6,1020.5L312.6,1020.5" fill="none" stroke="#66c2a5" stroke-width="1.7" stroke-dasharray="5,2.2"/><path d="M43.50,882.95H312.58" stroke="#66c2a5" stroke-width="1.6"/><path d="M42.8,867.7L56.2,869.1L68.3,870.0L92.1,871.3L101.9,871.7L114.2,871.6L128.6,871.1L137.1,870.4L145.5,869.2L174.9,859.2L178.8,857.4L186.0,853.2L189.2,851.5L192.8,850.1L201.0,847.4L206.5,845.0L211.1,842.8L216.0,840.1L227.4,831.9L233.6,828.3L236.8,826.7L240.1,825.8L252.5,824.5L257.0,823.3L259.0,823.0L260.9,823.4L263.5,825.0L266.2,827.3L268.1,830.0L270.1,833.5L271.4,836.6L274.6,846.1L277.9,856.3L280.5,862.3L281.8,864.7L282.8,865.9L284.7,866.9L286.4,867.2L286.7,866.9L287.0,866.0L287.7,863.2L290.0,851.3L291.3,843.0L292.6,832.4L297.5,783.0L299.7,767.9L304.0,745.9L304.3,745.4L312.6,745.4" fill="none" stroke="#fc8d62" stroke-width="1.7" stroke-dasharray="5,2.2"/><path d="M42.8,889.3L67.9,887.2L90.4,884.9L125.0,880.4L136.7,878.3L141.3,877.6L145.5,877.4L149.4,878.3L152.4,878.3L187.6,874.5L218.9,872.8L227.7,871.9L235.8,870.7L240.1,869.8L243.3,868.3L252.8,868.4L253.4,868.9L254.4,870.4L257.4,877.4L259.0,883.5L261.6,895.3L265.8,916.7L268.4,928.5L269.7,935.9L270.4,940.9L273.7,973.6L274.3,978.5L275.3,983.8L277.2,992.8L279.5,1001.5L281.8,1008.7L285.7,1019.7L286.0,1020.5L312.6,1020.5" fill="none" stroke="#fc8d62" stroke-width="1.7" stroke-dasharray="5,2.2"/><path d="M42.8,878.5L63.4,879.0L87.8,879.0L103.8,878.5L110.0,877.9L124.7,875.4L143.3,873.7L145.9,873.2L149.4,871.9L151.4,871.4L164.4,868.8L189.2,861.3L214.3,855.1L218.2,853.8L227.0,850.6L235.8,848.0L239.4,847.5L247.9,847.5L249.5,847.7L251.5,848.3L255.4,850.1L258.0,852.2L259.6,854.0L260.9,855.9L262.2,858.7L263.5,863.2L266.2,874.1L277.6,932.0L278.9,937.8L280.8,945.2L284.4,956.6L287.7,965.6L289.6,970.4L291.3,973.6L293.5,976.8L294.8,978.3L296.1,978.9L296.5,978.8L297.1,977.9L298.1,975.0L301.0,961.7L302.3,953.5L305.6,928.7L307.2,919.5L308.9,913.0L309.8,910.1L311.1,907.9L311.8,907.1L312.6,906.6" fill="none" stroke="#fc8d62" stroke-width="1.4"/></g>
<path d="M43.50,785.40V980.50H326.60" stroke="#262626" stroke-width="1" fill="none"/>
<text x="36.90" y="984.20" font-size="10.4" text-anchor="end" textLength="22.2" lengthAdjust="spacingAndGlyphs">0.85</text>
<text x="36.90" y="951.68" font-size="10.4" text-anchor="end" textLength="22.2" lengthAdjust="spacingAndGlyphs">0.90</text>
<text x="36.90" y="919.17" font-size="10.4" text-anchor="end" textLength="22.2" lengthAdjust="spacingAndGlyphs">0.95</text>
<text x="36.90" y="886.65" font-size="10.4" text-anchor="end" textLength="22.2" lengthAdjust="spacingAndGlyphs">1.00</text>
<text x="36.90" y="854.13" font-size="10.4" text-anchor="end" textLength="22.2" lengthAdjust="spacingAndGlyphs">1.05</text>
<text x="36.90" y="821.62" font-size="10.4" text-anchor="end" textLength="22.2" lengthAdjust="spacingAndGlyphs">1.10</text>
<text x="36.90" y="789.10" font-size="10.4" text-anchor="end" textLength="22.2" lengthAdjust="spacingAndGlyphs">1.15</text>
<text x="51.73" y="994.70" font-size="10.4" textLength="11.6" lengthAdjust="spacingAndGlyphs">10</text>
<text x="64.73" y="991.00" font-size="7.4" textLength="9.6" lengthAdjust="spacingAndGlyphs">−4</text>
<text x="116.93" y="994.70" font-size="10.4" textLength="11.6" lengthAdjust="spacingAndGlyphs">10</text>
<text x="129.93" y="991.00" font-size="7.4" textLength="9.6" lengthAdjust="spacingAndGlyphs">−3</text>
<text x="182.13" y="994.70" font-size="10.4" textLength="11.6" lengthAdjust="spacingAndGlyphs">10</text>
<text x="195.13" y="991.00" font-size="7.4" textLength="9.6" lengthAdjust="spacingAndGlyphs">−2</text>
<text x="247.33" y="994.70" font-size="10.4" textLength="11.6" lengthAdjust="spacingAndGlyphs">10</text>
<text x="260.33" y="991.00" font-size="7.4" textLength="9.6" lengthAdjust="spacingAndGlyphs">−1</text>
<text x="315.73" y="994.70" font-size="10.4" textLength="11.6" lengthAdjust="spacingAndGlyphs">10</text>
<text x="328.73" y="991.00" font-size="7.4">0</text>
<path d="M40.00,980.50H43.50M40.00,947.98H43.50M40.00,915.47H43.50M40.00,882.95H43.50M40.00,850.43H43.50M40.00,817.92H43.50M40.00,785.40H43.50M63.13,980.50v3.5M128.33,980.50v3.5M193.53,980.50v3.5M258.73,980.50v3.5M323.93,980.50v3.5" stroke="#262626" stroke-width="0.9" fill="none"/>
<path d="M43.50,980.50v2M48.66,980.50v2M53.03,980.50v2M56.81,980.50v2M60.14,980.50v2M82.75,980.50v2M94.24,980.50v2M102.38,980.50v2M108.70,980.50v2M113.86,980.50v2M118.23,980.50v2M122.01,980.50v2M125.34,980.50v2M147.95,980.50v2M159.44,980.50v2M167.58,980.50v2M173.90,980.50v2M179.06,980.50v2M183.43,980.50v2M187.21,980.50v2M190.54,980.50v2M213.15,980.50v2M224.64,980.50v2M232.78,980.50v2M239.10,980.50v2M244.26,980.50v2M248.63,980.50v2M252.41,980.50v2M255.74,980.50v2M278.35,980.50v2M289.84,980.50v2M297.98,980.50v2M304.30,980.50v2M309.46,980.50v2M313.83,980.50v2M317.61,980.50v2M320.94,980.50v2" stroke="#3a3a3a" stroke-width="0.6" fill="none"/>
<text x="185.05" y="1008.50" font-size="10.4" text-anchor="middle">x</text>
<text transform="translate(7.50,882.95) rotate(-90)" font-size="10.4" text-anchor="middle" textLength="96.4" lengthAdjust="spacingAndGlyphs">Ratio to NNPDF4.0</text>
<text x="144.10" y="779.20" font-size="12.8" textLength="82" lengthAdjust="spacingAndGlyphs">c at 100 GeV</text>
<rect x="49.20" y="790.60" width="180.2" height="33.8" rx="2.2" fill="#fff" fill-opacity="0.8" stroke="#d6d6d6" stroke-width="0.8"/>
<rect x="53.00" y="795.40" width="21.4" height="7" fill="#66c2a5" fill-opacity="0.5" stroke="#66c2a5" stroke-width="1" stroke-dasharray="3,1.5"/>
<path d="M58.20,802.00L64.40,796.30" stroke="#777" stroke-width="0.9"/>
<text x="83.20" y="803.40" font-size="10.4" textLength="117.7" lengthAdjust="spacingAndGlyphs">NNPDF4.0 (68 c.l.+1σ)</text>
<rect x="53.00" y="810.40" width="21.4" height="7" fill="#fc8d62" fill-opacity="0.5" stroke="#fc8d62" stroke-width="1" stroke-dasharray="3,1.5"/>
<path d="M57.80,812.00L63.90,817.30" stroke="#777" stroke-width="0.9"/>
<text x="83.20" y="818.40" font-size="10.4" textLength="140.5" lengthAdjust="spacingAndGlyphs">NNPDF3.1-like (68 c.l.+1σ)</text>
<path d="M415.03,785.40V980.50M480.23,785.40V980.50M545.43,785.40V980.50M610.63,785.40V980.50M675.83,785.40V980.50M395.40,980.50H678.50M395.40,947.98H678.50M395.40,915.47H678.50M395.40,882.95H678.50M395.40,850.43H678.50M395.40,817.92H678.50M395.40,785.40H678.50" stroke="#f3f3f3" stroke-width="0.9" fill="none"/>
<g clip-path="url(#cp7)"><path d="M394.7,873.7L431.9,877.5L453.4,879.2L480.2,879.4L518.0,878.9L520.6,879.1L526.5,880.1L529.4,880.3L553.8,880.3L575.0,879.8L593.0,878.6L596.2,878.6L599.8,878.9L602.1,878.7L621.3,875.6L626.2,874.3L631.1,872.5L633.4,871.2L637.6,868.4L639.2,867.1L640.9,865.5L642.5,863.4L643.8,861.0L645.1,858.0L645.8,855.9L647.4,847.9L656.5,786.9L659.8,766.9L663.4,746.9L663.7,745.4L664.5,745.4L664.5,1020.5L664.0,1020.3L654.6,954.7L652.6,940.0L651.3,928.1L649.7,920.6L648.0,915.6L646.4,911.5L643.2,904.9L641.2,901.7L638.6,899.0L633.7,895.1L631.1,893.4L627.8,891.8L623.3,889.9L619.4,888.8L613.8,887.9L602.4,886.6L599.5,886.5L595.9,886.9L588.1,886.8L530.0,885.2L527.4,885.3L520.9,886.3L518.0,886.6L456.0,886.6L451.5,886.7L432.2,888.3L394.7,892.1Z" fill="#66c2a5" fill-opacity="0.5"/><path d="M394.7,873.7L431.9,877.5L453.4,879.2L480.2,879.4L518.0,878.9L520.6,879.1L526.5,880.1L529.4,880.3L553.8,880.3L575.0,879.8L593.0,878.6L596.2,878.6L599.8,878.9L602.1,878.7L621.3,875.6L626.2,874.3L631.1,872.5L633.4,871.2L637.6,868.4L639.2,867.1L640.9,865.5L642.5,863.4L643.8,861.0L645.1,858.0L645.8,855.9L647.4,847.9L656.5,786.9L659.8,766.9L663.4,746.9L663.7,745.4L664.5,745.4L664.5,1020.5L664.0,1020.3L654.6,954.7L652.6,940.0L651.3,928.1L649.7,920.6L648.0,915.6L646.4,911.5L643.2,904.9L641.2,901.7L638.6,899.0L633.7,895.1L631.1,893.4L627.8,891.8L623.3,889.9L619.4,888.8L613.8,887.9L602.4,886.6L599.5,886.5L595.9,886.9L588.1,886.8L530.0,885.2L527.4,885.3L520.9,886.3L518.0,886.6L456.0,886.6L451.5,886.7L432.2,888.3L394.7,892.1Z" fill="url(#hg7)" stroke="#66c2a5" stroke-width="0.6" stroke-opacity="0.7"/><path d="M394.7,877.2L432.6,880.3L446.3,881.0L454.4,881.2L480.5,881.2L531.0,880.3L540.5,880.0L554.2,879.1L564.3,878.2L573.1,877.2L581.9,875.9L588.1,874.4L592.3,873.0L595.9,871.5L596.9,870.5L599.8,866.7L603.4,864.7L606.6,863.4L610.9,862.3L613.8,861.7L616.4,861.5L617.7,861.7L619.0,862.1L622.9,864.3L624.3,865.5L630.4,872.5L634.4,876.5L636.3,878.0L637.3,878.6L638.3,878.6L639.2,878.3L640.9,877.3L641.5,876.6L642.5,874.7L643.2,872.8L644.8,863.5L647.4,845.9L648.7,838.8L650.0,827.9L651.3,814.6L653.6,785.2L658.2,746.8L658.5,745.4L664.5,745.4L664.5,789.1L661.1,803.8L659.5,814.6L658.8,822.0L657.8,839.2L655.5,864.9L654.2,877.3L651.3,900.0L650.3,905.8L649.4,910.4L648.0,915.0L647.4,916.5L647.1,916.8L646.1,916.5L644.8,915.4L643.2,913.3L631.1,893.9L626.5,884.6L623.3,879.5L622.0,877.9L621.0,877.2L618.1,876.7L599.8,875.8L598.5,876.3L596.2,877.9L593.9,878.8L587.7,880.7L581.5,882.3L576.3,883.3L570.1,884.1L554.5,885.6L540.5,886.5L531.7,886.9L474.3,887.0L455.1,887.5L416.3,890.6L394.7,892.7Z" fill="#fc8d62" fill-opacity="0.5"/><path d="M394.7,877.2L432.6,880.3L446.3,881.0L454.4,881.2L480.5,881.2L531.0,880.3L540.5,880.0L554.2,879.1L564.3,878.2L573.1,877.2L581.9,875.9L588.1,874.4L592.3,873.0L595.9,871.5L596.9,870.5L599.8,866.7L603.4,864.7L606.6,863.4L610.9,862.3L613.8,861.7L616.4,861.5L617.7,861.7L619.0,862.1L622.9,864.3L624.3,865.5L630.4,872.5L634.4,876.5L636.3,878.0L637.3,878.6L638.3,878.6L639.2,878.3L640.9,877.3L641.5,876.6L642.5,874.7L643.2,872.8L644.8,863.5L647.4,845.9L648.7,838.8L650.0,827.9L651.3,814.6L653.6,785.2L658.2,746.8L658.5,745.4L664.5,745.4L664.5,789.1L661.1,803.8L659.5,814.6L658.8,822.0L657.8,839.2L655.5,864.9L654.2,877.3L651.3,900.0L650.3,905.8L649.4,910.4L648.0,915.0L647.4,916.5L647.1,916.8L646.1,916.5L644.8,915.4L643.2,913.3L631.1,893.9L626.5,884.6L623.3,879.5L622.0,877.9L621.0,877.2L618.1,876.7L599.8,875.8L598.5,876.3L596.2,877.9L593.9,878.8L587.7,880.7L581.5,882.3L576.3,883.3L570.1,884.1L554.5,885.6L540.5,886.5L531.7,886.9L474.3,887.0L455.1,887.5L416.3,890.6L394.7,892.7Z" fill="url(#ho7)" stroke="#fc8d62" stroke-width="0.6" stroke-opacity="0.7"/><path d="M394.7,873.7L431.9,877.5L453.4,879.2L480.2,879.4L518.0,878.9L520.6,879.1L526.5,880.1L529.4,880.3L553.8,880.3L575.0,879.8L593.0,878.6L596.2,878.6L599.8,878.9L602.1,878.7L621.3,875.6L626.2,874.3L631.1,872.5L633.4,871.2L637.6,868.4L639.2,867.1L640.9,865.5L642.5,863.4L643.8,861.0L645.1,858.0L645.8,855.9L647.4,847.9L656.5,786.9L659.8,766.9L663.4,746.9L663.7,745.4L664.5,745.4" fill="none" stroke="#66c2a5" stroke-width="1.7" stroke-dasharray="5,2.2"/><path d="M394.7,892.1L432.2,888.3L451.5,886.7L456.0,886.6L518.0,886.6L520.9,886.3L527.4,885.3L530.0,885.2L588.1,886.8L595.9,886.9L599.5,886.5L602.4,886.6L613.8,887.9L619.4,888.8L623.3,889.9L627.8,891.8L631.1,893.4L633.7,895.1L638.6,899.0L641.2,901.7L643.2,904.9L646.4,911.5L648.0,915.6L649.7,920.6L651.3,928.1L652.6,940.0L654.6,954.7L664.0,1020.3L664.5,1020.5" fill="none" stroke="#66c2a5" stroke-width="1.7" stroke-dasharray="5,2.2"/><path d="M395.40,882.95H664.48" stroke="#66c2a5" stroke-width="1.6"/><path d="M394.7,877.2L432.6,880.3L446.3,881.0L454.4,881.2L480.5,881.2L531.0,880.3L540.5,880.0L554.2,879.1L564.3,878.2L573.1,877.2L581.9,875.9L588.1,874.4L592.3,873.0L595.9,871.5L596.9,870.5L599.8,866.7L603.4,864.7L606.6,863.4L610.9,862.3L613.8,861.7L616.4,861.5L617.7,861.7L619.0,862.1L622.9,864.3L624.3,865.5L630.4,872.5L634.4,876.5L636.3,878.0L637.3,878.6L638.3,878.6L639.2,878.3L640.9,877.3L641.5,876.6L642.5,874.7L643.2,872.8L644.8,863.5L647.4,845.9L648.7,838.8L650.0,827.9L651.3,814.6L653.6,785.2L658.2,746.8L658.5,745.4L664.5,745.4" fill="none" stroke="#fc8d62" stroke-width="1.7" stroke-dasharray="5,2.2"/><path d="M394.7,892.7L416.3,890.6L455.1,887.5L474.3,887.0L531.7,886.9L540.5,886.5L554.5,885.6L570.1,884.1L576.3,883.3L581.5,882.3L587.7,880.7L593.9,878.8L596.2,877.9L598.5,876.3L599.8,875.8L618.1,876.7L621.0,877.2L622.0,877.9L623.3,879.5L626.5,884.6L631.1,893.9L643.2,913.3L644.8,915.4L646.1,916.5L647.1,916.8L647.4,916.5L648.0,915.0L649.4,910.4L650.3,905.8L651.3,900.0L654.2,877.3L655.5,864.9L657.8,839.2L658.8,822.0L659.5,814.6L661.1,803.8L664.5,789.1" fill="none" stroke="#fc8d62" stroke-width="1.7" stroke-dasharray="5,2.2"/><path d="M394.7,885.4L435.2,884.6L455.7,883.9L518.0,883.3L529.4,882.6L551.2,882.1L560.7,881.6L580.2,879.6L588.7,878.2L592.6,877.1L595.9,875.9L596.9,874.8L599.1,871.3L600.1,870.6L602.7,870.0L605.7,869.5L613.8,868.8L616.8,868.7L618.7,869.0L620.7,869.8L622.6,870.7L623.9,871.9L625.9,874.5L637.3,892.5L638.6,893.9L640.2,895.1L641.2,895.6L642.2,895.7L642.8,895.2L643.5,894.3L645.1,890.7L646.1,886.4L647.4,878.4L649.7,859.4L656.2,791.1L657.2,782.5L659.8,763.5L662.1,749.9L663.0,745.4L664.5,745.4" fill="none" stroke="#fc8d62" stroke-width="1.4"/></g>
<path d="M395.40,785.40V980.50H678.50" stroke="#262626" stroke-width="1" fill="none"/>
<text x="388.80" y="984.20" font-size="10.4" text-anchor="end" textLength="22.2" lengthAdjust="spacingAndGlyphs">0.85</text>
<text x="388.80" y="951.68" font-size="10.4" text-anchor="end" textLength="22.2" lengthAdjust="spacingAndGlyphs">0.90</text>
<text x="388.80" y="919.17" font-size="10.4" text-anchor="end" textLength="22.2" lengthAdjust="spacingAndGlyphs">0.95</text>
<text x="388.80" y="886.65" font-size="10.4" text-anchor="end" textLength="22.2" lengthAdjust="spacingAndGlyphs">1.00</text>
<text x="388.80" y="854.13" font-size="10.4" text-anchor="end" textLength="22.2" lengthAdjust="spacingAndGlyphs">1.05</text>
<text x="388.80" y="821.62" font-size="10.4" text-anchor="end" textLength="22.2" lengthAdjust="spacingAndGlyphs">1.10</text>
<text x="388.80" y="789.10" font-size="10.4" text-anchor="end" textLength="22.2" lengthAdjust="spacingAndGlyphs">1.15</text>
<text x="403.63" y="994.70" font-size="10.4" textLength="11.6" lengthAdjust="spacingAndGlyphs">10</text>
<text x="416.63" y="991.00" font-size="7.4" textLength="9.6" lengthAdjust="spacingAndGlyphs">−4</text>
<text x="468.83" y="994.70" font-size="10.4" textLength="11.6" lengthAdjust="spacingAndGlyphs">10</text>
<text x="481.83" y="991.00" font-size="7.4" textLength="9.6" lengthAdjust="spacingAndGlyphs">−3</text>
<text x="534.03" y="994.70" font-size="10.4" textLength="11.6" lengthAdjust="spacingAndGlyphs">10</text>
<text x="547.03" y="991.00" font-size="7.4" textLength="9.6" lengthAdjust="spacingAndGlyphs">−2</text>
<text x="599.23" y="994.70" font-size="10.4" textLength="11.6" lengthAdjust="spacingAndGlyphs">10</text>
<text x="612.23" y="991.00" font-size="7.4" textLength="9.6" lengthAdjust="spacingAndGlyphs">−1</text>
<text x="667.63" y="994.70" font-size="10.4" textLength="11.6" lengthAdjust="spacingAndGlyphs">10</text>
<text x="680.63" y="991.00" font-size="7.4">0</text>
<path d="M391.90,980.50H395.40M391.90,947.98H395.40M391.90,915.47H395.40M391.90,882.95H395.40M391.90,850.43H395.40M391.90,817.92H395.40M391.90,785.40H395.40M415.03,980.50v3.5M480.23,980.50v3.5M545.43,980.50v3.5M610.63,980.50v3.5M675.83,980.50v3.5" stroke="#262626" stroke-width="0.9" fill="none"/>
<path d="M395.40,980.50v2M400.56,980.50v2M404.93,980.50v2M408.71,980.50v2M412.04,980.50v2M434.65,980.50v2M446.14,980.50v2M454.28,980.50v2M460.60,980.50v2M465.76,980.50v2M470.13,980.50v2M473.91,980.50v2M477.24,980.50v2M499.85,980.50v2M511.34,980.50v2M519.48,980.50v2M525.80,980.50v2M530.96,980.50v2M535.33,980.50v2M539.11,980.50v2M542.44,980.50v2M565.05,980.50v2M576.54,980.50v2M584.68,980.50v2M591.00,980.50v2M596.16,980.50v2M600.53,980.50v2M604.31,980.50v2M607.64,980.50v2M630.25,980.50v2M641.74,980.50v2M649.88,980.50v2M656.20,980.50v2M661.36,980.50v2M665.73,980.50v2M669.51,980.50v2M672.84,980.50v2" stroke="#3a3a3a" stroke-width="0.6" fill="none"/>
<text x="536.95" y="1008.50" font-size="10.4" text-anchor="middle">x</text>
<text transform="translate(359.50,882.95) rotate(-90)" font-size="10.4" text-anchor="middle" textLength="96.4" lengthAdjust="spacingAndGlyphs">Ratio to NNPDF4.0</text>
<text x="495.60" y="779.20" font-size="12.8" textLength="82" lengthAdjust="spacingAndGlyphs">g at 100 GeV</text>
<rect x="401.10" y="790.60" width="180.2" height="33.8" rx="2.2" fill="#fff" fill-opacity="0.8" stroke="#d6d6d6" stroke-width="0.8"/>
<rect x="404.90" y="795.40" width="21.4" height="7" fill="#66c2a5" fill-opacity="0.5" stroke="#66c2a5" stroke-width="1" stroke-dasharray="3,1.5"/>
<path d="M410.10,802.00L416.30,796.30" stroke="#777" stroke-width="0.9"/>
<text x="435.10" y="803.40" font-size="10.4" textLength="117.7" lengthAdjust="spacingAndGlyphs">NNPDF4.0 (68 c.l.+1σ)</text>
<rect x="404.90" y="810.40" width="21.4" height="7" fill="#fc8d62" fill-opacity="0.5" stroke="#fc8d62" stroke-width="1" stroke-dasharray="3,1.5"/>
<path d="M409.70,812.00L415.80,817.30" stroke="#777" stroke-width="0.9"/>
<text x="435.10" y="818.40" font-size="10.4" textLength="140.5" lengthAdjust="spacingAndGlyphs">NNPDF3.1-like (68 c.l.+1σ)</text>
</svg></body></html>
